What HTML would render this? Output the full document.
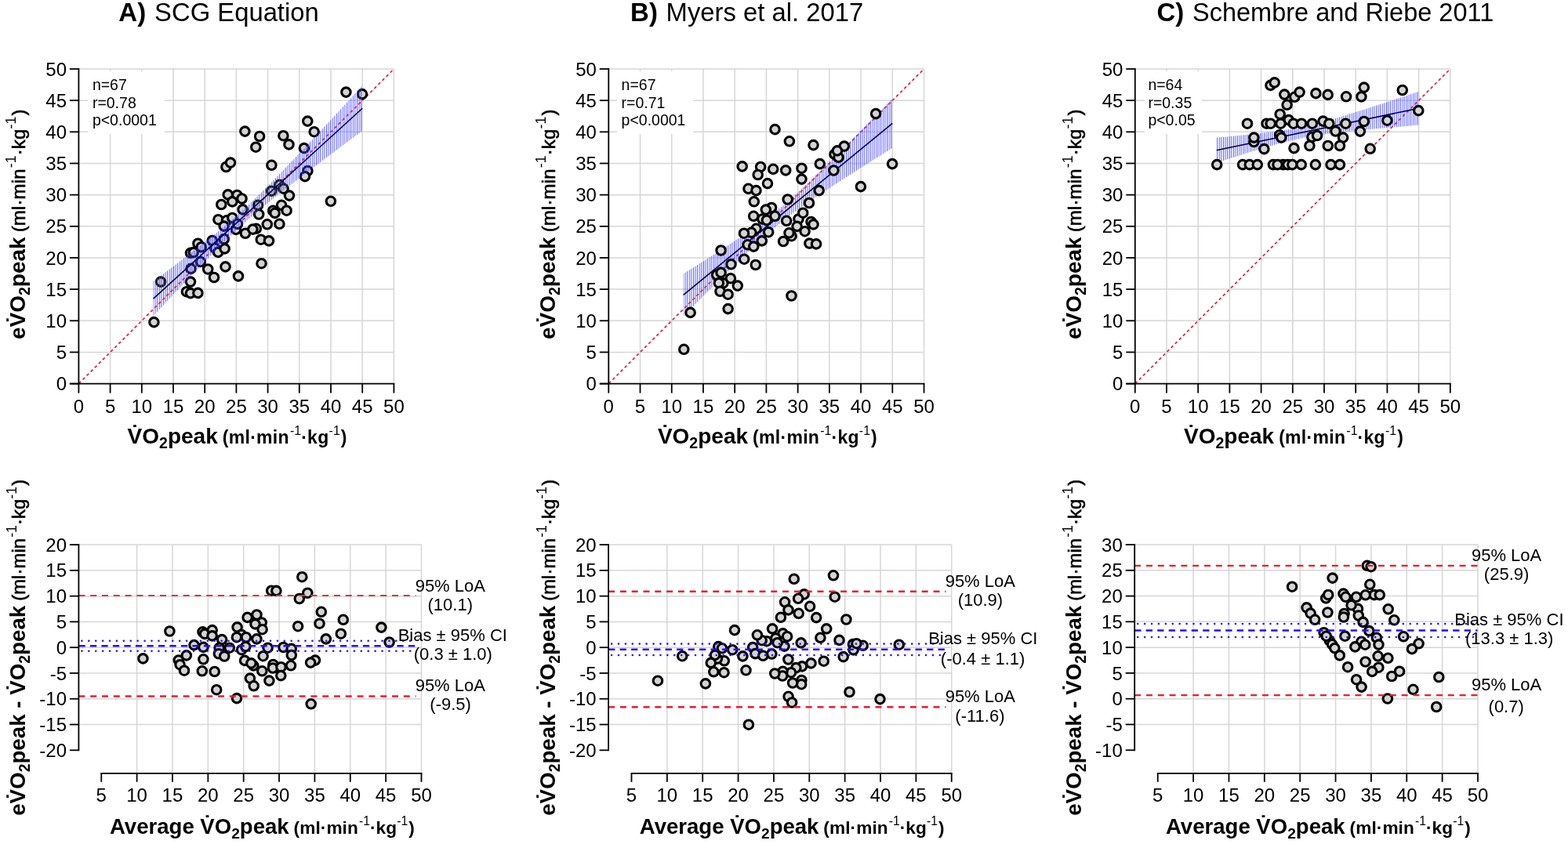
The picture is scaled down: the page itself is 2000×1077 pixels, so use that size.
<!DOCTYPE html><html><head><meta charset="utf-8"><title>Figure</title><style>html,body{margin:0;padding:0;background:#fff;}svg{display:block;}text{font-family:'Liberation Sans', Arial, sans-serif;fill:#000;}.tk{font-size:24px;}.st{font-size:19.5px;}.an{font-size:22px;}.ttl{font-size:33px;}.lb{font-size:28px;font-weight:bold;}.lu{font-size:24px;font-weight:bold;}</style></head><body>
<svg width="2000" height="1077" viewBox="0 0 2000 1077">
<defs><pattern id="hatch" patternUnits="userSpaceOnUse" width="2.6" height="10"><rect x="0" y="0" width="1.1" height="10" fill="#4c4cff" fill-opacity="0.85"/></pattern></defs>
<rect x="0" y="0" width="2000" height="1077" fill="#fff"/>
<text class="ttl" x="151.3" y="27.4" font-weight="bold">A)</text>
<text class="ttl" x="197.1" y="27.4" style="font-size:32.8px">SCG Equation</text>
<text class="ttl" x="804.1" y="27.4" font-weight="bold">B)</text>
<text class="ttl" x="849.6" y="27.4" style="font-size:32.8px">Myers et al. 2017</text>
<text class="ttl" x="1475.5" y="27.4" font-weight="bold">C)</text>
<text class="ttl" x="1521" y="27.4" style="font-size:32.5px">Schembre and Riebe 2011</text>
<g><line x1="100.4" y1="449.44" x2="502.4" y2="449.44" stroke="#d6d6d6" stroke-width="1.5"/><line x1="140.6" y1="489.6" x2="140.6" y2="88" stroke="#d6d6d6" stroke-width="1.5"/><line x1="100.4" y1="409.28" x2="502.4" y2="409.28" stroke="#d6d6d6" stroke-width="1.5"/><line x1="180.8" y1="489.6" x2="180.8" y2="88" stroke="#d6d6d6" stroke-width="1.5"/><line x1="100.4" y1="369.12" x2="502.4" y2="369.12" stroke="#d6d6d6" stroke-width="1.5"/><line x1="221" y1="489.6" x2="221" y2="88" stroke="#d6d6d6" stroke-width="1.5"/><line x1="100.4" y1="328.96" x2="502.4" y2="328.96" stroke="#d6d6d6" stroke-width="1.5"/><line x1="261.2" y1="489.6" x2="261.2" y2="88" stroke="#d6d6d6" stroke-width="1.5"/><line x1="100.4" y1="288.8" x2="502.4" y2="288.8" stroke="#d6d6d6" stroke-width="1.5"/><line x1="301.4" y1="489.6" x2="301.4" y2="88" stroke="#d6d6d6" stroke-width="1.5"/><line x1="100.4" y1="248.64" x2="502.4" y2="248.64" stroke="#d6d6d6" stroke-width="1.5"/><line x1="341.6" y1="489.6" x2="341.6" y2="88" stroke="#d6d6d6" stroke-width="1.5"/><line x1="100.4" y1="208.48" x2="502.4" y2="208.48" stroke="#d6d6d6" stroke-width="1.5"/><line x1="381.8" y1="489.6" x2="381.8" y2="88" stroke="#d6d6d6" stroke-width="1.5"/><line x1="100.4" y1="168.32" x2="502.4" y2="168.32" stroke="#d6d6d6" stroke-width="1.5"/><line x1="422" y1="489.6" x2="422" y2="88" stroke="#d6d6d6" stroke-width="1.5"/><line x1="100.4" y1="128.16" x2="502.4" y2="128.16" stroke="#d6d6d6" stroke-width="1.5"/><line x1="462.2" y1="489.6" x2="462.2" y2="88" stroke="#d6d6d6" stroke-width="1.5"/><line x1="100.4" y1="88" x2="502.4" y2="88" stroke="#d6d6d6" stroke-width="1.5"/><line x1="502.4" y1="489.6" x2="502.4" y2="88" stroke="#d6d6d6" stroke-width="1.5"/><rect x="112" y="91" width="98" height="80" fill="#fff"/><line x1="100.4" y1="489.6" x2="502.4" y2="88" stroke="#dc2245" stroke-width="1.7" stroke-dasharray="3.8 3.4"/><circle cx="196.4" cy="411.1" r="5.75" fill="#d4d4d4" stroke="#000" stroke-width="3.1"/><circle cx="205.1" cy="359.6" r="5.75" fill="#d4d4d4" stroke="#000" stroke-width="3.1"/><circle cx="237.9" cy="372.2" r="5.75" fill="#d4d4d4" stroke="#000" stroke-width="3.1"/><circle cx="243" cy="374.1" r="5.75" fill="#d4d4d4" stroke="#000" stroke-width="3.1"/><circle cx="252.4" cy="373.9" r="5.75" fill="#d4d4d4" stroke="#000" stroke-width="3.1"/><circle cx="243" cy="359.6" r="5.75" fill="#d4d4d4" stroke="#000" stroke-width="3.1"/><circle cx="243.5" cy="342.9" r="5.75" fill="#d4d4d4" stroke="#000" stroke-width="3.1"/><circle cx="255.8" cy="334" r="5.75" fill="#d4d4d4" stroke="#000" stroke-width="3.1"/><circle cx="265.2" cy="343.5" r="5.75" fill="#d4d4d4" stroke="#000" stroke-width="3.1"/><circle cx="273" cy="354" r="5.75" fill="#d4d4d4" stroke="#000" stroke-width="3.1"/><circle cx="287.5" cy="340.4" r="5.75" fill="#d4d4d4" stroke="#000" stroke-width="3.1"/><circle cx="304" cy="352.4" r="5.75" fill="#d4d4d4" stroke="#000" stroke-width="3.1"/><circle cx="243" cy="322.8" r="5.75" fill="#d4d4d4" stroke="#000" stroke-width="3.1"/><circle cx="246.9" cy="322.1" r="5.75" fill="#d4d4d4" stroke="#000" stroke-width="3.1"/><circle cx="252.4" cy="310.7" r="5.75" fill="#d4d4d4" stroke="#000" stroke-width="3.1"/><circle cx="256.8" cy="315.2" r="5.75" fill="#d4d4d4" stroke="#000" stroke-width="3.1"/><circle cx="270.8" cy="307" r="5.75" fill="#d4d4d4" stroke="#000" stroke-width="3.1"/><circle cx="274.2" cy="316.7" r="5.75" fill="#d4d4d4" stroke="#000" stroke-width="3.1"/><circle cx="278.2" cy="321.9" r="5.75" fill="#d4d4d4" stroke="#000" stroke-width="3.1"/><circle cx="286.6" cy="317.4" r="5.75" fill="#d4d4d4" stroke="#000" stroke-width="3.1"/><circle cx="285.8" cy="305" r="5.75" fill="#d4d4d4" stroke="#000" stroke-width="3.1"/><circle cx="333.5" cy="336.2" r="5.75" fill="#d4d4d4" stroke="#000" stroke-width="3.1"/><circle cx="312.9" cy="297.8" r="5.75" fill="#d4d4d4" stroke="#000" stroke-width="3.1"/><circle cx="332.8" cy="305.7" r="5.75" fill="#d4d4d4" stroke="#000" stroke-width="3.1"/><circle cx="343" cy="307.4" r="5.75" fill="#d4d4d4" stroke="#000" stroke-width="3.1"/><circle cx="326.8" cy="291.8" r="5.75" fill="#d4d4d4" stroke="#000" stroke-width="3.1"/><circle cx="322.4" cy="292.6" r="5.75" fill="#d4d4d4" stroke="#000" stroke-width="3.1"/><circle cx="301" cy="292.9" r="5.75" fill="#d4d4d4" stroke="#000" stroke-width="3.1"/><circle cx="288.4" cy="213" r="5.75" fill="#d4d4d4" stroke="#000" stroke-width="3.1"/><circle cx="294" cy="207.6" r="5.75" fill="#d4d4d4" stroke="#000" stroke-width="3.1"/><circle cx="346.4" cy="210.8" r="5.75" fill="#d4d4d4" stroke="#000" stroke-width="3.1"/><circle cx="290.7" cy="248.4" r="5.75" fill="#d4d4d4" stroke="#000" stroke-width="3.1"/><circle cx="302.4" cy="249" r="5.75" fill="#d4d4d4" stroke="#000" stroke-width="3.1"/><circle cx="308.5" cy="253.5" r="5.75" fill="#d4d4d4" stroke="#000" stroke-width="3.1"/><circle cx="296.3" cy="257.4" r="5.75" fill="#d4d4d4" stroke="#000" stroke-width="3.1"/><circle cx="282.3" cy="261" r="5.75" fill="#d4d4d4" stroke="#000" stroke-width="3.1"/><circle cx="309.6" cy="267.4" r="5.75" fill="#d4d4d4" stroke="#000" stroke-width="3.1"/><circle cx="329.1" cy="261.8" r="5.75" fill="#d4d4d4" stroke="#000" stroke-width="3.1"/><circle cx="330.2" cy="273.5" r="5.75" fill="#d4d4d4" stroke="#000" stroke-width="3.1"/><circle cx="346.3" cy="243.7" r="5.75" fill="#d4d4d4" stroke="#000" stroke-width="3.1"/><circle cx="356.5" cy="235.8" r="5.75" fill="#d4d4d4" stroke="#000" stroke-width="3.1"/><circle cx="361.6" cy="240.7" r="5.75" fill="#d4d4d4" stroke="#000" stroke-width="3.1"/><circle cx="348.2" cy="268.8" r="5.75" fill="#d4d4d4" stroke="#000" stroke-width="3.1"/><circle cx="350.6" cy="271.9" r="5.75" fill="#d4d4d4" stroke="#000" stroke-width="3.1"/><circle cx="359.1" cy="261.8" r="5.75" fill="#d4d4d4" stroke="#000" stroke-width="3.1"/><circle cx="356.4" cy="285.8" r="5.75" fill="#d4d4d4" stroke="#000" stroke-width="3.1"/><circle cx="340.8" cy="286.3" r="5.75" fill="#d4d4d4" stroke="#000" stroke-width="3.1"/><circle cx="278.4" cy="280.2" r="5.75" fill="#d4d4d4" stroke="#000" stroke-width="3.1"/><circle cx="289" cy="281.3" r="5.75" fill="#d4d4d4" stroke="#000" stroke-width="3.1"/><circle cx="296.3" cy="278" r="5.75" fill="#d4d4d4" stroke="#000" stroke-width="3.1"/><circle cx="285.7" cy="288.6" r="5.75" fill="#d4d4d4" stroke="#000" stroke-width="3.1"/><circle cx="303" cy="285.8" r="5.75" fill="#d4d4d4" stroke="#000" stroke-width="3.1"/><circle cx="312.4" cy="167.6" r="5.75" fill="#d4d4d4" stroke="#000" stroke-width="3.1"/><circle cx="331.1" cy="174" r="5.75" fill="#d4d4d4" stroke="#000" stroke-width="3.1"/><circle cx="326.3" cy="187.7" r="5.75" fill="#d4d4d4" stroke="#000" stroke-width="3.1"/><circle cx="361.4" cy="173.2" r="5.75" fill="#d4d4d4" stroke="#000" stroke-width="3.1"/><circle cx="368.5" cy="184.4" r="5.75" fill="#d4d4d4" stroke="#000" stroke-width="3.1"/><circle cx="369" cy="249.6" r="5.75" fill="#d4d4d4" stroke="#000" stroke-width="3.1"/><circle cx="441.4" cy="117.6" r="5.75" fill="#d4d4d4" stroke="#000" stroke-width="3.1"/><circle cx="462" cy="120.1" r="5.75" fill="#d4d4d4" stroke="#000" stroke-width="3.1"/><circle cx="392.3" cy="154.6" r="5.75" fill="#d4d4d4" stroke="#000" stroke-width="3.1"/><circle cx="400.7" cy="168.2" r="5.75" fill="#d4d4d4" stroke="#000" stroke-width="3.1"/><circle cx="387.9" cy="189.1" r="5.75" fill="#d4d4d4" stroke="#000" stroke-width="3.1"/><circle cx="392.4" cy="218" r="5.75" fill="#d4d4d4" stroke="#000" stroke-width="3.1"/><circle cx="389" cy="225.1" r="5.75" fill="#d4d4d4" stroke="#000" stroke-width="3.1"/><circle cx="365.6" cy="268.7" r="5.75" fill="#d4d4d4" stroke="#000" stroke-width="3.1"/><circle cx="421.9" cy="256.8" r="5.75" fill="#d4d4d4" stroke="#000" stroke-width="3.1"/><polygon points="195.59,359.08 202.26,354.08 208.92,349.06 215.59,344.03 222.25,338.98 228.92,333.92 235.58,328.82 242.25,323.7 248.91,318.54 255.58,313.35 262.25,308.09 268.91,302.78 275.58,297.39 282.24,291.91 288.91,286.33 295.57,280.62 302.24,274.77 308.9,268.78 315.57,262.63 322.23,256.33 328.9,249.9 335.56,243.34 342.23,236.68 348.89,229.92 355.56,223.09 362.22,216.2 368.89,209.25 375.55,202.27 382.22,195.24 388.88,188.19 395.55,181.11 402.21,174.02 408.88,166.9 415.54,159.77 422.21,152.63 428.87,145.48 435.54,138.32 442.2,131.14 448.87,123.97 455.53,116.78 462.2,109.59 462.2,166.94 455.53,171.89 448.87,176.85 442.2,181.82 435.54,186.8 428.87,191.78 422.21,196.77 415.54,201.77 408.88,206.79 402.21,211.82 395.55,216.87 388.88,221.94 382.22,227.03 375.55,232.15 368.89,237.31 362.22,242.51 355.56,247.76 348.89,253.07 342.23,258.46 335.56,263.95 328.9,269.53 322.23,275.24 315.57,281.09 308.9,287.09 302.24,293.24 295.57,299.54 288.91,305.98 282.24,312.54 275.58,319.2 268.91,325.96 262.25,332.79 255.58,339.68 248.91,346.63 242.25,353.62 235.58,360.64 228.92,367.69 222.25,374.77 215.59,381.87 208.92,388.98 202.26,396.11 195.59,403.26" fill="url(#hatch)"/><line x1="195.59" y1="381.17" x2="462.2" y2="138.26" stroke="#000050" stroke-width="1.6"/><line x1="100.4" y1="490.5" x2="100.4" y2="87.1" stroke="#000" stroke-width="1.8"/><line x1="88.9" y1="489.6" x2="503.3" y2="489.6" stroke="#000" stroke-width="1.8"/><line x1="88.9" y1="489.6" x2="100.4" y2="489.6" stroke="#000" stroke-width="1.8"/><line x1="100.4" y1="489.6" x2="100.4" y2="501.6" stroke="#000" stroke-width="1.8"/><text class="tk" x="85" y="498.2" text-anchor="end">0</text><text class="tk" x="100.4" y="526.8" text-anchor="middle">0</text><line x1="88.9" y1="449.44" x2="100.4" y2="449.44" stroke="#000" stroke-width="1.8"/><line x1="140.6" y1="489.6" x2="140.6" y2="501.6" stroke="#000" stroke-width="1.8"/><text class="tk" x="85" y="458.04" text-anchor="end">5</text><text class="tk" x="140.6" y="526.8" text-anchor="middle">5</text><line x1="88.9" y1="409.28" x2="100.4" y2="409.28" stroke="#000" stroke-width="1.8"/><line x1="180.8" y1="489.6" x2="180.8" y2="501.6" stroke="#000" stroke-width="1.8"/><text class="tk" x="85" y="417.88" text-anchor="end">10</text><text class="tk" x="180.8" y="526.8" text-anchor="middle">10</text><line x1="88.9" y1="369.12" x2="100.4" y2="369.12" stroke="#000" stroke-width="1.8"/><line x1="221" y1="489.6" x2="221" y2="501.6" stroke="#000" stroke-width="1.8"/><text class="tk" x="85" y="377.72" text-anchor="end">15</text><text class="tk" x="221" y="526.8" text-anchor="middle">15</text><line x1="88.9" y1="328.96" x2="100.4" y2="328.96" stroke="#000" stroke-width="1.8"/><line x1="261.2" y1="489.6" x2="261.2" y2="501.6" stroke="#000" stroke-width="1.8"/><text class="tk" x="85" y="337.56" text-anchor="end">20</text><text class="tk" x="261.2" y="526.8" text-anchor="middle">20</text><line x1="88.9" y1="288.8" x2="100.4" y2="288.8" stroke="#000" stroke-width="1.8"/><line x1="301.4" y1="489.6" x2="301.4" y2="501.6" stroke="#000" stroke-width="1.8"/><text class="tk" x="85" y="297.4" text-anchor="end">25</text><text class="tk" x="301.4" y="526.8" text-anchor="middle">25</text><line x1="88.9" y1="248.64" x2="100.4" y2="248.64" stroke="#000" stroke-width="1.8"/><line x1="341.6" y1="489.6" x2="341.6" y2="501.6" stroke="#000" stroke-width="1.8"/><text class="tk" x="85" y="257.24" text-anchor="end">30</text><text class="tk" x="341.6" y="526.8" text-anchor="middle">30</text><line x1="88.9" y1="208.48" x2="100.4" y2="208.48" stroke="#000" stroke-width="1.8"/><line x1="381.8" y1="489.6" x2="381.8" y2="501.6" stroke="#000" stroke-width="1.8"/><text class="tk" x="85" y="217.08" text-anchor="end">35</text><text class="tk" x="381.8" y="526.8" text-anchor="middle">35</text><line x1="88.9" y1="168.32" x2="100.4" y2="168.32" stroke="#000" stroke-width="1.8"/><line x1="422" y1="489.6" x2="422" y2="501.6" stroke="#000" stroke-width="1.8"/><text class="tk" x="85" y="176.92" text-anchor="end">40</text><text class="tk" x="422" y="526.8" text-anchor="middle">40</text><line x1="88.9" y1="128.16" x2="100.4" y2="128.16" stroke="#000" stroke-width="1.8"/><line x1="462.2" y1="489.6" x2="462.2" y2="501.6" stroke="#000" stroke-width="1.8"/><text class="tk" x="85" y="136.76" text-anchor="end">45</text><text class="tk" x="462.2" y="526.8" text-anchor="middle">45</text><line x1="88.9" y1="88" x2="100.4" y2="88" stroke="#000" stroke-width="1.8"/><line x1="502.4" y1="489.6" x2="502.4" y2="501.6" stroke="#000" stroke-width="1.8"/><text class="tk" x="85" y="96.6" text-anchor="end">50</text><text class="tk" x="502.4" y="526.8" text-anchor="middle">50</text><text class="st" x="117.9" y="115.3">n=67</text><text class="st" x="117.9" y="137.5">r=0.78</text><text class="st" x="117.9" y="159.7">p&lt;0.0001</text></g>
<g><line x1="776.3" y1="449.44" x2="1178.55" y2="449.44" stroke="#d6d6d6" stroke-width="1.5"/><line x1="816.52" y1="489.6" x2="816.52" y2="88" stroke="#d6d6d6" stroke-width="1.5"/><line x1="776.3" y1="409.28" x2="1178.55" y2="409.28" stroke="#d6d6d6" stroke-width="1.5"/><line x1="856.75" y1="489.6" x2="856.75" y2="88" stroke="#d6d6d6" stroke-width="1.5"/><line x1="776.3" y1="369.12" x2="1178.55" y2="369.12" stroke="#d6d6d6" stroke-width="1.5"/><line x1="896.97" y1="489.6" x2="896.97" y2="88" stroke="#d6d6d6" stroke-width="1.5"/><line x1="776.3" y1="328.96" x2="1178.55" y2="328.96" stroke="#d6d6d6" stroke-width="1.5"/><line x1="937.2" y1="489.6" x2="937.2" y2="88" stroke="#d6d6d6" stroke-width="1.5"/><line x1="776.3" y1="288.8" x2="1178.55" y2="288.8" stroke="#d6d6d6" stroke-width="1.5"/><line x1="977.42" y1="489.6" x2="977.42" y2="88" stroke="#d6d6d6" stroke-width="1.5"/><line x1="776.3" y1="248.64" x2="1178.55" y2="248.64" stroke="#d6d6d6" stroke-width="1.5"/><line x1="1017.65" y1="489.6" x2="1017.65" y2="88" stroke="#d6d6d6" stroke-width="1.5"/><line x1="776.3" y1="208.48" x2="1178.55" y2="208.48" stroke="#d6d6d6" stroke-width="1.5"/><line x1="1057.88" y1="489.6" x2="1057.88" y2="88" stroke="#d6d6d6" stroke-width="1.5"/><line x1="776.3" y1="168.32" x2="1178.55" y2="168.32" stroke="#d6d6d6" stroke-width="1.5"/><line x1="1098.1" y1="489.6" x2="1098.1" y2="88" stroke="#d6d6d6" stroke-width="1.5"/><line x1="776.3" y1="128.16" x2="1178.55" y2="128.16" stroke="#d6d6d6" stroke-width="1.5"/><line x1="1138.32" y1="489.6" x2="1138.32" y2="88" stroke="#d6d6d6" stroke-width="1.5"/><line x1="776.3" y1="88" x2="1178.55" y2="88" stroke="#d6d6d6" stroke-width="1.5"/><line x1="1178.55" y1="489.6" x2="1178.55" y2="88" stroke="#d6d6d6" stroke-width="1.5"/><rect x="787" y="91" width="97" height="80" fill="#fff"/><line x1="776.3" y1="489.6" x2="1178.55" y2="88" stroke="#dc2245" stroke-width="1.7" stroke-dasharray="3.8 3.4"/><polygon points="871.71,349.28 878.38,345.09 885.04,340.88 891.71,336.66 898.37,332.43 905.04,328.17 911.71,323.9 918.37,319.61 925.04,315.28 931.7,310.92 938.37,306.51 945.03,302.05 951.7,297.52 958.36,292.92 965.03,288.21 971.69,283.37 978.36,278.4 985.02,273.25 991.69,267.92 998.35,262.4 1005.02,256.69 1011.68,250.81 1018.35,244.76 1025.02,238.58 1031.68,232.29 1038.35,225.91 1045.01,219.45 1051.68,212.93 1058.34,206.36 1065.01,199.75 1071.67,193.11 1078.34,186.44 1085,179.75 1091.67,173.04 1098.33,166.32 1105,159.58 1111.66,152.82 1118.33,146.06 1124.99,139.29 1131.66,132.51 1138.32,125.73 1138.32,188.83 1131.66,193 1124.99,197.18 1118.33,201.36 1111.66,205.55 1105,209.75 1098.33,213.97 1091.67,218.2 1085,222.44 1078.34,226.7 1071.67,230.99 1065.01,235.3 1058.34,239.64 1051.68,244.03 1045.01,248.46 1038.35,252.96 1031.68,257.53 1025.02,262.19 1018.35,266.96 1011.68,271.87 1005.02,276.94 998.35,282.18 991.69,287.61 985.02,293.24 978.36,299.05 971.69,305.02 965.03,311.15 958.36,317.39 951.7,323.73 945.03,330.16 938.37,336.65 931.7,343.2 925.04,349.79 918.37,356.42 911.71,363.08 905.04,369.76 898.37,376.46 891.71,383.18 885.04,389.91 878.38,396.66 871.71,403.42" fill="url(#hatch)"/><line x1="871.71" y1="376.35" x2="1138.32" y2="157.28" stroke="#000050" stroke-width="1.6"/><circle cx="880.6" cy="398.9" r="5.75" fill="#d4d4d4" stroke="#000" stroke-width="3.1"/><circle cx="919.6" cy="319.5" r="5.75" fill="#d4d4d4" stroke="#000" stroke-width="3.1"/><circle cx="914.1" cy="350.7" r="5.75" fill="#d4d4d4" stroke="#000" stroke-width="3.1"/><circle cx="919.6" cy="347.9" r="5.75" fill="#d4d4d4" stroke="#000" stroke-width="3.1"/><circle cx="932.5" cy="337.3" r="5.75" fill="#d4d4d4" stroke="#000" stroke-width="3.1"/><circle cx="931.9" cy="355.2" r="5.75" fill="#d4d4d4" stroke="#000" stroke-width="3.1"/><circle cx="922.4" cy="361.4" r="5.75" fill="#d4d4d4" stroke="#000" stroke-width="3.1"/><circle cx="916.9" cy="361.1" r="5.75" fill="#d4d4d4" stroke="#000" stroke-width="3.1"/><circle cx="940.8" cy="364.6" r="5.75" fill="#d4d4d4" stroke="#000" stroke-width="3.1"/><circle cx="918.5" cy="371.8" r="5.75" fill="#d4d4d4" stroke="#000" stroke-width="3.1"/><circle cx="928.6" cy="375.7" r="5.75" fill="#d4d4d4" stroke="#000" stroke-width="3.1"/><circle cx="928.6" cy="394.1" r="5.75" fill="#d4d4d4" stroke="#000" stroke-width="3.1"/><circle cx="949.2" cy="330.7" r="5.75" fill="#d4d4d4" stroke="#000" stroke-width="3.1"/><circle cx="963.8" cy="338" r="5.75" fill="#d4d4d4" stroke="#000" stroke-width="3.1"/><circle cx="953.6" cy="312.3" r="5.75" fill="#d4d4d4" stroke="#000" stroke-width="3.1"/><circle cx="961.3" cy="314.6" r="5.75" fill="#d4d4d4" stroke="#000" stroke-width="3.1"/><circle cx="961.8" cy="257.3" r="5.75" fill="#d4d4d4" stroke="#000" stroke-width="3.1"/><circle cx="1004.7" cy="254.5" r="5.75" fill="#d4d4d4" stroke="#000" stroke-width="3.1"/><circle cx="1032" cy="259" r="5.75" fill="#d4d4d4" stroke="#000" stroke-width="3.1"/><circle cx="984.1" cy="265" r="5.75" fill="#d4d4d4" stroke="#000" stroke-width="3.1"/><circle cx="976.8" cy="267.6" r="5.75" fill="#d4d4d4" stroke="#000" stroke-width="3.1"/><circle cx="961.2" cy="275.8" r="5.75" fill="#d4d4d4" stroke="#000" stroke-width="3.1"/><circle cx="988.5" cy="275.8" r="5.75" fill="#d4d4d4" stroke="#000" stroke-width="3.1"/><circle cx="972.4" cy="279.5" r="5.75" fill="#d4d4d4" stroke="#000" stroke-width="3.1"/><circle cx="977.9" cy="281" r="5.75" fill="#d4d4d4" stroke="#000" stroke-width="3.1"/><circle cx="1003.2" cy="281.8" r="5.75" fill="#d4d4d4" stroke="#000" stroke-width="3.1"/><circle cx="1018.5" cy="279.5" r="5.75" fill="#d4d4d4" stroke="#000" stroke-width="3.1"/><circle cx="1024.2" cy="271.7" r="5.75" fill="#d4d4d4" stroke="#000" stroke-width="3.1"/><circle cx="1034.5" cy="283" r="5.75" fill="#d4d4d4" stroke="#000" stroke-width="3.1"/><circle cx="1037.5" cy="286.4" r="5.75" fill="#d4d4d4" stroke="#000" stroke-width="3.1"/><circle cx="1016.6" cy="288.9" r="5.75" fill="#d4d4d4" stroke="#000" stroke-width="3.1"/><circle cx="1026.6" cy="295.2" r="5.75" fill="#d4d4d4" stroke="#000" stroke-width="3.1"/><circle cx="1009.6" cy="301.2" r="5.75" fill="#d4d4d4" stroke="#000" stroke-width="3.1"/><circle cx="1006.5" cy="297.3" r="5.75" fill="#d4d4d4" stroke="#000" stroke-width="3.1"/><circle cx="999.1" cy="308" r="5.75" fill="#d4d4d4" stroke="#000" stroke-width="3.1"/><circle cx="1032.4" cy="310.6" r="5.75" fill="#d4d4d4" stroke="#000" stroke-width="3.1"/><circle cx="1041.1" cy="311.4" r="5.75" fill="#d4d4d4" stroke="#000" stroke-width="3.1"/><circle cx="964.6" cy="291.8" r="5.75" fill="#d4d4d4" stroke="#000" stroke-width="3.1"/><circle cx="958.4" cy="296.8" r="5.75" fill="#d4d4d4" stroke="#000" stroke-width="3.1"/><circle cx="949" cy="297.7" r="5.75" fill="#d4d4d4" stroke="#000" stroke-width="3.1"/><circle cx="980.2" cy="296.2" r="5.75" fill="#d4d4d4" stroke="#000" stroke-width="3.1"/><circle cx="971.8" cy="307.4" r="5.75" fill="#d4d4d4" stroke="#000" stroke-width="3.1"/><circle cx="988.5" cy="165.1" r="5.75" fill="#d4d4d4" stroke="#000" stroke-width="3.1"/><circle cx="1006.9" cy="180.3" r="5.75" fill="#d4d4d4" stroke="#000" stroke-width="3.1"/><circle cx="1037.5" cy="185.1" r="5.75" fill="#d4d4d4" stroke="#000" stroke-width="3.1"/><circle cx="946.7" cy="212.4" r="5.75" fill="#d4d4d4" stroke="#000" stroke-width="3.1"/><circle cx="970.1" cy="213" r="5.75" fill="#d4d4d4" stroke="#000" stroke-width="3.1"/><circle cx="966.7" cy="223" r="5.75" fill="#d4d4d4" stroke="#000" stroke-width="3.1"/><circle cx="986.2" cy="215.8" r="5.75" fill="#d4d4d4" stroke="#000" stroke-width="3.1"/><circle cx="1002.2" cy="217.4" r="5.75" fill="#d4d4d4" stroke="#000" stroke-width="3.1"/><circle cx="1022.5" cy="214.7" r="5.75" fill="#d4d4d4" stroke="#000" stroke-width="3.1"/><circle cx="1022.5" cy="228.6" r="5.75" fill="#d4d4d4" stroke="#000" stroke-width="3.1"/><circle cx="979" cy="234.1" r="5.75" fill="#d4d4d4" stroke="#000" stroke-width="3.1"/><circle cx="954.5" cy="240.8" r="5.75" fill="#d4d4d4" stroke="#000" stroke-width="3.1"/><circle cx="964.5" cy="243.1" r="5.75" fill="#d4d4d4" stroke="#000" stroke-width="3.1"/><circle cx="1045.8" cy="209.1" r="5.75" fill="#d4d4d4" stroke="#000" stroke-width="3.1"/><circle cx="1044.7" cy="243.1" r="5.75" fill="#d4d4d4" stroke="#000" stroke-width="3.1"/><circle cx="1117.1" cy="145.1" r="5.75" fill="#d4d4d4" stroke="#000" stroke-width="3.1"/><circle cx="1138.1" cy="209.1" r="5.75" fill="#d4d4d4" stroke="#000" stroke-width="3.1"/><circle cx="1076.8" cy="186.6" r="5.75" fill="#d4d4d4" stroke="#000" stroke-width="3.1"/><circle cx="1064.5" cy="196.9" r="5.75" fill="#d4d4d4" stroke="#000" stroke-width="3.1"/><circle cx="1069.5" cy="200.8" r="5.75" fill="#d4d4d4" stroke="#000" stroke-width="3.1"/><circle cx="1067.9" cy="192.4" r="5.75" fill="#d4d4d4" stroke="#000" stroke-width="3.1"/><circle cx="1063.4" cy="217.5" r="5.75" fill="#d4d4d4" stroke="#000" stroke-width="3.1"/><circle cx="1097.9" cy="238.1" r="5.75" fill="#d4d4d4" stroke="#000" stroke-width="3.1"/><circle cx="872.3" cy="445.8" r="5.75" fill="#d4d4d4" stroke="#000" stroke-width="3.1"/><circle cx="1009.5" cy="377.5" r="5.75" fill="#d4d4d4" stroke="#000" stroke-width="3.1"/><line x1="776.3" y1="490.5" x2="776.3" y2="87.1" stroke="#000" stroke-width="1.8"/><line x1="764.8" y1="489.6" x2="1179.45" y2="489.6" stroke="#000" stroke-width="1.8"/><line x1="764.8" y1="489.6" x2="776.3" y2="489.6" stroke="#000" stroke-width="1.8"/><line x1="776.3" y1="489.6" x2="776.3" y2="501.6" stroke="#000" stroke-width="1.8"/><text class="tk" x="760.9" y="498.2" text-anchor="end">0</text><text class="tk" x="776.3" y="526.8" text-anchor="middle">0</text><line x1="764.8" y1="449.44" x2="776.3" y2="449.44" stroke="#000" stroke-width="1.8"/><line x1="816.52" y1="489.6" x2="816.52" y2="501.6" stroke="#000" stroke-width="1.8"/><text class="tk" x="760.9" y="458.04" text-anchor="end">5</text><text class="tk" x="816.52" y="526.8" text-anchor="middle">5</text><line x1="764.8" y1="409.28" x2="776.3" y2="409.28" stroke="#000" stroke-width="1.8"/><line x1="856.75" y1="489.6" x2="856.75" y2="501.6" stroke="#000" stroke-width="1.8"/><text class="tk" x="760.9" y="417.88" text-anchor="end">10</text><text class="tk" x="856.75" y="526.8" text-anchor="middle">10</text><line x1="764.8" y1="369.12" x2="776.3" y2="369.12" stroke="#000" stroke-width="1.8"/><line x1="896.97" y1="489.6" x2="896.97" y2="501.6" stroke="#000" stroke-width="1.8"/><text class="tk" x="760.9" y="377.72" text-anchor="end">15</text><text class="tk" x="896.97" y="526.8" text-anchor="middle">15</text><line x1="764.8" y1="328.96" x2="776.3" y2="328.96" stroke="#000" stroke-width="1.8"/><line x1="937.2" y1="489.6" x2="937.2" y2="501.6" stroke="#000" stroke-width="1.8"/><text class="tk" x="760.9" y="337.56" text-anchor="end">20</text><text class="tk" x="937.2" y="526.8" text-anchor="middle">20</text><line x1="764.8" y1="288.8" x2="776.3" y2="288.8" stroke="#000" stroke-width="1.8"/><line x1="977.42" y1="489.6" x2="977.42" y2="501.6" stroke="#000" stroke-width="1.8"/><text class="tk" x="760.9" y="297.4" text-anchor="end">25</text><text class="tk" x="977.42" y="526.8" text-anchor="middle">25</text><line x1="764.8" y1="248.64" x2="776.3" y2="248.64" stroke="#000" stroke-width="1.8"/><line x1="1017.65" y1="489.6" x2="1017.65" y2="501.6" stroke="#000" stroke-width="1.8"/><text class="tk" x="760.9" y="257.24" text-anchor="end">30</text><text class="tk" x="1017.65" y="526.8" text-anchor="middle">30</text><line x1="764.8" y1="208.48" x2="776.3" y2="208.48" stroke="#000" stroke-width="1.8"/><line x1="1057.88" y1="489.6" x2="1057.88" y2="501.6" stroke="#000" stroke-width="1.8"/><text class="tk" x="760.9" y="217.08" text-anchor="end">35</text><text class="tk" x="1057.88" y="526.8" text-anchor="middle">35</text><line x1="764.8" y1="168.32" x2="776.3" y2="168.32" stroke="#000" stroke-width="1.8"/><line x1="1098.1" y1="489.6" x2="1098.1" y2="501.6" stroke="#000" stroke-width="1.8"/><text class="tk" x="760.9" y="176.92" text-anchor="end">40</text><text class="tk" x="1098.1" y="526.8" text-anchor="middle">40</text><line x1="764.8" y1="128.16" x2="776.3" y2="128.16" stroke="#000" stroke-width="1.8"/><line x1="1138.32" y1="489.6" x2="1138.32" y2="501.6" stroke="#000" stroke-width="1.8"/><text class="tk" x="760.9" y="136.76" text-anchor="end">45</text><text class="tk" x="1138.32" y="526.8" text-anchor="middle">45</text><line x1="764.8" y1="88" x2="776.3" y2="88" stroke="#000" stroke-width="1.8"/><line x1="1178.55" y1="489.6" x2="1178.55" y2="501.6" stroke="#000" stroke-width="1.8"/><text class="tk" x="760.9" y="96.6" text-anchor="end">50</text><text class="tk" x="1178.55" y="526.8" text-anchor="middle">50</text><text class="st" x="792.6" y="115.3">n=67</text><text class="st" x="792.6" y="137.5">r=0.71</text><text class="st" x="792.6" y="159.7">p&lt;0.0001</text></g>
<g><line x1="1447.8" y1="449.44" x2="1849.8" y2="449.44" stroke="#d6d6d6" stroke-width="1.5"/><line x1="1488" y1="489.6" x2="1488" y2="88" stroke="#d6d6d6" stroke-width="1.5"/><line x1="1447.8" y1="409.28" x2="1849.8" y2="409.28" stroke="#d6d6d6" stroke-width="1.5"/><line x1="1528.2" y1="489.6" x2="1528.2" y2="88" stroke="#d6d6d6" stroke-width="1.5"/><line x1="1447.8" y1="369.12" x2="1849.8" y2="369.12" stroke="#d6d6d6" stroke-width="1.5"/><line x1="1568.4" y1="489.6" x2="1568.4" y2="88" stroke="#d6d6d6" stroke-width="1.5"/><line x1="1447.8" y1="328.96" x2="1849.8" y2="328.96" stroke="#d6d6d6" stroke-width="1.5"/><line x1="1608.6" y1="489.6" x2="1608.6" y2="88" stroke="#d6d6d6" stroke-width="1.5"/><line x1="1447.8" y1="288.8" x2="1849.8" y2="288.8" stroke="#d6d6d6" stroke-width="1.5"/><line x1="1648.8" y1="489.6" x2="1648.8" y2="88" stroke="#d6d6d6" stroke-width="1.5"/><line x1="1447.8" y1="248.64" x2="1849.8" y2="248.64" stroke="#d6d6d6" stroke-width="1.5"/><line x1="1689" y1="489.6" x2="1689" y2="88" stroke="#d6d6d6" stroke-width="1.5"/><line x1="1447.8" y1="208.48" x2="1849.8" y2="208.48" stroke="#d6d6d6" stroke-width="1.5"/><line x1="1729.2" y1="489.6" x2="1729.2" y2="88" stroke="#d6d6d6" stroke-width="1.5"/><line x1="1447.8" y1="168.32" x2="1849.8" y2="168.32" stroke="#d6d6d6" stroke-width="1.5"/><line x1="1769.4" y1="489.6" x2="1769.4" y2="88" stroke="#d6d6d6" stroke-width="1.5"/><line x1="1447.8" y1="128.16" x2="1849.8" y2="128.16" stroke="#d6d6d6" stroke-width="1.5"/><line x1="1809.6" y1="489.6" x2="1809.6" y2="88" stroke="#d6d6d6" stroke-width="1.5"/><line x1="1447.8" y1="88" x2="1849.8" y2="88" stroke="#d6d6d6" stroke-width="1.5"/><line x1="1849.8" y1="489.6" x2="1849.8" y2="88" stroke="#d6d6d6" stroke-width="1.5"/><rect x="1460" y="91" width="73" height="80" fill="#fff"/><line x1="1447.8" y1="489.6" x2="1849.8" y2="88" stroke="#dc2245" stroke-width="1.7" stroke-dasharray="3.8 3.4"/><polygon points="1551.68,175.58 1558.13,175.02 1564.59,174.44 1571.05,173.84 1577.51,173.24 1583.97,172.61 1590.43,171.97 1596.88,171.3 1603.34,170.6 1609.8,169.87 1616.26,169.1 1622.72,168.27 1629.17,167.39 1635.63,166.44 1642.09,165.41 1648.55,164.29 1655.01,163.07 1661.47,161.74 1667.92,160.32 1674.38,158.79 1680.84,157.17 1687.3,155.47 1693.76,153.7 1700.21,151.86 1706.67,149.97 1713.13,148.04 1719.59,146.07 1726.05,144.07 1732.5,142.04 1738.96,140 1745.42,137.93 1751.88,135.85 1758.34,133.75 1764.8,131.65 1771.25,129.53 1777.71,127.41 1784.17,125.28 1790.63,123.14 1797.09,121 1803.54,118.85 1810,116.7 1810,159.59 1803.54,160.11 1797.09,160.64 1790.63,161.18 1784.17,161.72 1777.71,162.26 1771.25,162.82 1764.8,163.38 1758.34,163.95 1751.88,164.54 1745.42,165.13 1738.96,165.74 1732.5,166.37 1726.05,167.03 1719.59,167.7 1713.13,168.41 1706.67,169.16 1700.21,169.94 1693.76,170.78 1687.3,171.69 1680.84,172.66 1674.38,173.72 1667.92,174.87 1661.47,176.12 1655.01,177.48 1648.55,178.94 1642.09,180.49 1635.63,182.14 1629.17,183.87 1622.72,185.66 1616.26,187.52 1609.8,189.42 1603.34,191.36 1596.88,193.34 1590.43,195.35 1583.97,197.39 1577.51,199.44 1571.05,201.51 1564.59,203.6 1558.13,205.69 1551.68,207.8" fill="url(#hatch)"/><line x1="1551.68" y1="191.69" x2="1810" y2="138.14" stroke="#000050" stroke-width="1.6"/><circle cx="1585" cy="210.1" r="5.75" fill="#d4d4d4" stroke="#000" stroke-width="3.1"/><circle cx="1623.9" cy="210.1" r="5.75" fill="#d4d4d4" stroke="#000" stroke-width="3.1"/><circle cx="1636.5" cy="210.1" r="5.75" fill="#d4d4d4" stroke="#000" stroke-width="3.1"/><circle cx="1642.5" cy="210.1" r="5.75" fill="#d4d4d4" stroke="#000" stroke-width="3.1"/><circle cx="1552.2" cy="210.1" r="5.75" fill="#d4d4d4" stroke="#000" stroke-width="3.1"/><circle cx="1593.8" cy="210.1" r="5.75" fill="#d4d4d4" stroke="#000" stroke-width="3.1"/><circle cx="1603.8" cy="210.1" r="5.75" fill="#d4d4d4" stroke="#000" stroke-width="3.1"/><circle cx="1629.5" cy="210.1" r="5.75" fill="#d4d4d4" stroke="#000" stroke-width="3.1"/><circle cx="1648.3" cy="210.1" r="5.75" fill="#d4d4d4" stroke="#000" stroke-width="3.1"/><circle cx="1659.8" cy="210.1" r="5.75" fill="#d4d4d4" stroke="#000" stroke-width="3.1"/><circle cx="1677.9" cy="210.1" r="5.75" fill="#d4d4d4" stroke="#000" stroke-width="3.1"/><circle cx="1697.5" cy="210.1" r="5.75" fill="#d4d4d4" stroke="#000" stroke-width="3.1"/><circle cx="1709" cy="210.1" r="5.75" fill="#d4d4d4" stroke="#000" stroke-width="3.1"/><circle cx="1643.8" cy="153.1" r="5.75" fill="#d4d4d4" stroke="#000" stroke-width="3.1"/><circle cx="1687.6" cy="154.6" r="5.75" fill="#d4d4d4" stroke="#000" stroke-width="3.1"/><circle cx="1615.6" cy="157.7" r="5.75" fill="#d4d4d4" stroke="#000" stroke-width="3.1"/><circle cx="1591" cy="157.7" r="5.75" fill="#d4d4d4" stroke="#000" stroke-width="3.1"/><circle cx="1620.7" cy="157.7" r="5.75" fill="#d4d4d4" stroke="#000" stroke-width="3.1"/><circle cx="1633.5" cy="157.7" r="5.75" fill="#d4d4d4" stroke="#000" stroke-width="3.1"/><circle cx="1649.8" cy="157.7" r="5.75" fill="#d4d4d4" stroke="#000" stroke-width="3.1"/><circle cx="1660.1" cy="157.7" r="5.75" fill="#d4d4d4" stroke="#000" stroke-width="3.1"/><circle cx="1673.8" cy="157.7" r="5.75" fill="#d4d4d4" stroke="#000" stroke-width="3.1"/><circle cx="1695.3" cy="157.7" r="5.75" fill="#d4d4d4" stroke="#000" stroke-width="3.1"/><circle cx="1716.4" cy="157.7" r="5.75" fill="#d4d4d4" stroke="#000" stroke-width="3.1"/><circle cx="1739.8" cy="155" r="5.75" fill="#d4d4d4" stroke="#000" stroke-width="3.1"/><circle cx="1769.4" cy="153.7" r="5.75" fill="#d4d4d4" stroke="#000" stroke-width="3.1"/><circle cx="1620.5" cy="108.9" r="5.75" fill="#d4d4d4" stroke="#000" stroke-width="3.1"/><circle cx="1625.7" cy="105.4" r="5.75" fill="#d4d4d4" stroke="#000" stroke-width="3.1"/><circle cx="1638.3" cy="120.6" r="5.75" fill="#d4d4d4" stroke="#000" stroke-width="3.1"/><circle cx="1651.3" cy="123.8" r="5.75" fill="#d4d4d4" stroke="#000" stroke-width="3.1"/><circle cx="1657.6" cy="117.6" r="5.75" fill="#d4d4d4" stroke="#000" stroke-width="3.1"/><circle cx="1678.4" cy="119.1" r="5.75" fill="#d4d4d4" stroke="#000" stroke-width="3.1"/><circle cx="1693.7" cy="120.9" r="5.75" fill="#d4d4d4" stroke="#000" stroke-width="3.1"/><circle cx="1717.1" cy="123.3" r="5.75" fill="#d4d4d4" stroke="#000" stroke-width="3.1"/><circle cx="1739.8" cy="111.6" r="5.75" fill="#d4d4d4" stroke="#000" stroke-width="3.1"/><circle cx="1736.4" cy="123.4" r="5.75" fill="#d4d4d4" stroke="#000" stroke-width="3.1"/><circle cx="1788.8" cy="115" r="5.75" fill="#d4d4d4" stroke="#000" stroke-width="3.1"/><circle cx="1641.6" cy="133.8" r="5.75" fill="#d4d4d4" stroke="#000" stroke-width="3.1"/><circle cx="1632.7" cy="145.7" r="5.75" fill="#d4d4d4" stroke="#000" stroke-width="3.1"/><circle cx="1599.4" cy="181" r="5.75" fill="#d4d4d4" stroke="#000" stroke-width="3.1"/><circle cx="1599.4" cy="175.6" r="5.75" fill="#d4d4d4" stroke="#000" stroke-width="3.1"/><circle cx="1612.4" cy="190.1" r="5.75" fill="#d4d4d4" stroke="#000" stroke-width="3.1"/><circle cx="1632.1" cy="172.3" r="5.75" fill="#d4d4d4" stroke="#000" stroke-width="3.1"/><circle cx="1634.3" cy="175.6" r="5.75" fill="#d4d4d4" stroke="#000" stroke-width="3.1"/><circle cx="1650.5" cy="189.1" r="5.75" fill="#d4d4d4" stroke="#000" stroke-width="3.1"/><circle cx="1703.5" cy="167.5" r="5.75" fill="#d4d4d4" stroke="#000" stroke-width="3.1"/><circle cx="1713.1" cy="175.6" r="5.75" fill="#d4d4d4" stroke="#000" stroke-width="3.1"/><circle cx="1673.4" cy="174.9" r="5.75" fill="#d4d4d4" stroke="#000" stroke-width="3.1"/><circle cx="1680.1" cy="173" r="5.75" fill="#d4d4d4" stroke="#000" stroke-width="3.1"/><circle cx="1734.9" cy="167.6" r="5.75" fill="#d4d4d4" stroke="#000" stroke-width="3.1"/><circle cx="1670.4" cy="186" r="5.75" fill="#d4d4d4" stroke="#000" stroke-width="3.1"/><circle cx="1693.8" cy="186" r="5.75" fill="#d4d4d4" stroke="#000" stroke-width="3.1"/><circle cx="1709" cy="186" r="5.75" fill="#d4d4d4" stroke="#000" stroke-width="3.1"/><circle cx="1747.7" cy="189.8" r="5.75" fill="#d4d4d4" stroke="#000" stroke-width="3.1"/><circle cx="1809.3" cy="141.1" r="5.75" fill="#d4d4d4" stroke="#000" stroke-width="3.1"/><line x1="1447.8" y1="490.5" x2="1447.8" y2="87.1" stroke="#000" stroke-width="1.8"/><line x1="1436.3" y1="489.6" x2="1850.7" y2="489.6" stroke="#000" stroke-width="1.8"/><line x1="1436.3" y1="489.6" x2="1447.8" y2="489.6" stroke="#000" stroke-width="1.8"/><line x1="1447.8" y1="489.6" x2="1447.8" y2="501.6" stroke="#000" stroke-width="1.8"/><text class="tk" x="1432.4" y="498.2" text-anchor="end">0</text><text class="tk" x="1447.8" y="526.8" text-anchor="middle">0</text><line x1="1436.3" y1="449.44" x2="1447.8" y2="449.44" stroke="#000" stroke-width="1.8"/><line x1="1488" y1="489.6" x2="1488" y2="501.6" stroke="#000" stroke-width="1.8"/><text class="tk" x="1432.4" y="458.04" text-anchor="end">5</text><text class="tk" x="1488" y="526.8" text-anchor="middle">5</text><line x1="1436.3" y1="409.28" x2="1447.8" y2="409.28" stroke="#000" stroke-width="1.8"/><line x1="1528.2" y1="489.6" x2="1528.2" y2="501.6" stroke="#000" stroke-width="1.8"/><text class="tk" x="1432.4" y="417.88" text-anchor="end">10</text><text class="tk" x="1528.2" y="526.8" text-anchor="middle">10</text><line x1="1436.3" y1="369.12" x2="1447.8" y2="369.12" stroke="#000" stroke-width="1.8"/><line x1="1568.4" y1="489.6" x2="1568.4" y2="501.6" stroke="#000" stroke-width="1.8"/><text class="tk" x="1432.4" y="377.72" text-anchor="end">15</text><text class="tk" x="1568.4" y="526.8" text-anchor="middle">15</text><line x1="1436.3" y1="328.96" x2="1447.8" y2="328.96" stroke="#000" stroke-width="1.8"/><line x1="1608.6" y1="489.6" x2="1608.6" y2="501.6" stroke="#000" stroke-width="1.8"/><text class="tk" x="1432.4" y="337.56" text-anchor="end">20</text><text class="tk" x="1608.6" y="526.8" text-anchor="middle">20</text><line x1="1436.3" y1="288.8" x2="1447.8" y2="288.8" stroke="#000" stroke-width="1.8"/><line x1="1648.8" y1="489.6" x2="1648.8" y2="501.6" stroke="#000" stroke-width="1.8"/><text class="tk" x="1432.4" y="297.4" text-anchor="end">25</text><text class="tk" x="1648.8" y="526.8" text-anchor="middle">25</text><line x1="1436.3" y1="248.64" x2="1447.8" y2="248.64" stroke="#000" stroke-width="1.8"/><line x1="1689" y1="489.6" x2="1689" y2="501.6" stroke="#000" stroke-width="1.8"/><text class="tk" x="1432.4" y="257.24" text-anchor="end">30</text><text class="tk" x="1689" y="526.8" text-anchor="middle">30</text><line x1="1436.3" y1="208.48" x2="1447.8" y2="208.48" stroke="#000" stroke-width="1.8"/><line x1="1729.2" y1="489.6" x2="1729.2" y2="501.6" stroke="#000" stroke-width="1.8"/><text class="tk" x="1432.4" y="217.08" text-anchor="end">35</text><text class="tk" x="1729.2" y="526.8" text-anchor="middle">35</text><line x1="1436.3" y1="168.32" x2="1447.8" y2="168.32" stroke="#000" stroke-width="1.8"/><line x1="1769.4" y1="489.6" x2="1769.4" y2="501.6" stroke="#000" stroke-width="1.8"/><text class="tk" x="1432.4" y="176.92" text-anchor="end">40</text><text class="tk" x="1769.4" y="526.8" text-anchor="middle">40</text><line x1="1436.3" y1="128.16" x2="1447.8" y2="128.16" stroke="#000" stroke-width="1.8"/><line x1="1809.6" y1="489.6" x2="1809.6" y2="501.6" stroke="#000" stroke-width="1.8"/><text class="tk" x="1432.4" y="136.76" text-anchor="end">45</text><text class="tk" x="1809.6" y="526.8" text-anchor="middle">45</text><line x1="1436.3" y1="88" x2="1447.8" y2="88" stroke="#000" stroke-width="1.8"/><line x1="1849.8" y1="489.6" x2="1849.8" y2="501.6" stroke="#000" stroke-width="1.8"/><text class="tk" x="1432.4" y="96.6" text-anchor="end">50</text><text class="tk" x="1849.8" y="526.8" text-anchor="middle">50</text><text class="st" x="1464.4" y="115.3">n=64</text><text class="st" x="1464.4" y="137.5">r=0.35</text><text class="st" x="1464.4" y="159.7">p&lt;0.05</text></g>
<g><line x1="100.4" y1="924.54" x2="537.49" y2="924.54" stroke="#d6d6d6" stroke-width="1.5"/><line x1="100.4" y1="891.76" x2="537.49" y2="891.76" stroke="#d6d6d6" stroke-width="1.5"/><line x1="100.4" y1="858.98" x2="537.49" y2="858.98" stroke="#d6d6d6" stroke-width="1.5"/><line x1="100.4" y1="826.2" x2="537.49" y2="826.2" stroke="#d6d6d6" stroke-width="1.5"/><line x1="100.4" y1="793.42" x2="537.49" y2="793.42" stroke="#d6d6d6" stroke-width="1.5"/><line x1="100.4" y1="760.64" x2="537.49" y2="760.64" stroke="#d6d6d6" stroke-width="1.5"/><line x1="100.4" y1="727.86" x2="537.49" y2="727.86" stroke="#d6d6d6" stroke-width="1.5"/><line x1="100.4" y1="695.08" x2="537.49" y2="695.08" stroke="#d6d6d6" stroke-width="1.5"/><line x1="174.61" y1="695.08" x2="174.61" y2="986.8" stroke="#d6d6d6" stroke-width="1.5"/><line x1="219.97" y1="695.08" x2="219.97" y2="986.8" stroke="#d6d6d6" stroke-width="1.5"/><line x1="265.33" y1="695.08" x2="265.33" y2="986.8" stroke="#d6d6d6" stroke-width="1.5"/><line x1="310.69" y1="695.08" x2="310.69" y2="986.8" stroke="#d6d6d6" stroke-width="1.5"/><line x1="356.05" y1="695.08" x2="356.05" y2="986.8" stroke="#d6d6d6" stroke-width="1.5"/><line x1="401.41" y1="695.08" x2="401.41" y2="986.8" stroke="#d6d6d6" stroke-width="1.5"/><line x1="446.77" y1="695.08" x2="446.77" y2="986.8" stroke="#d6d6d6" stroke-width="1.5"/><line x1="492.13" y1="695.08" x2="492.13" y2="986.8" stroke="#d6d6d6" stroke-width="1.5"/><line x1="537.49" y1="695.08" x2="537.49" y2="986.8" stroke="#d6d6d6" stroke-width="1.5"/><circle cx="182.4" cy="840.4" r="5.75" fill="#d4d4d4" stroke="#000" stroke-width="3.1"/><circle cx="216.4" cy="805.5" r="5.75" fill="#d4d4d4" stroke="#000" stroke-width="3.1"/><circle cx="227.8" cy="842.5" r="5.75" fill="#d4d4d4" stroke="#000" stroke-width="3.1"/><circle cx="229.6" cy="848.2" r="5.75" fill="#d4d4d4" stroke="#000" stroke-width="3.1"/><circle cx="235" cy="855.7" r="5.75" fill="#d4d4d4" stroke="#000" stroke-width="3.1"/><circle cx="237.8" cy="836.4" r="5.75" fill="#d4d4d4" stroke="#000" stroke-width="3.1"/><circle cx="247.5" cy="823.1" r="5.75" fill="#d4d4d4" stroke="#000" stroke-width="3.1"/><circle cx="259.4" cy="825.9" r="5.75" fill="#d4d4d4" stroke="#000" stroke-width="3.1"/><circle cx="259.4" cy="841.3" r="5.75" fill="#d4d4d4" stroke="#000" stroke-width="3.1"/><circle cx="257.8" cy="856.3" r="5.75" fill="#d4d4d4" stroke="#000" stroke-width="3.1"/><circle cx="273.7" cy="857" r="5.75" fill="#d4d4d4" stroke="#000" stroke-width="3.1"/><circle cx="276.2" cy="880.2" r="5.75" fill="#d4d4d4" stroke="#000" stroke-width="3.1"/><circle cx="258.5" cy="806.3" r="5.75" fill="#d4d4d4" stroke="#000" stroke-width="3.1"/><circle cx="261.1" cy="808.9" r="5.75" fill="#d4d4d4" stroke="#000" stroke-width="3.1"/><circle cx="270.7" cy="804.1" r="5.75" fill="#d4d4d4" stroke="#000" stroke-width="3.1"/><circle cx="270.6" cy="811.4" r="5.75" fill="#d4d4d4" stroke="#000" stroke-width="3.1"/><circle cx="283.1" cy="816.1" r="5.75" fill="#d4d4d4" stroke="#000" stroke-width="3.1"/><circle cx="279.6" cy="826.8" r="5.75" fill="#d4d4d4" stroke="#000" stroke-width="3.1"/><circle cx="278.9" cy="834.3" r="5.75" fill="#d4d4d4" stroke="#000" stroke-width="3.1"/><circle cx="286.2" cy="837.5" r="5.75" fill="#d4d4d4" stroke="#000" stroke-width="3.1"/><circle cx="292.7" cy="826.7" r="5.75" fill="#d4d4d4" stroke="#000" stroke-width="3.1"/><circle cx="302" cy="891.1" r="5.75" fill="#d4d4d4" stroke="#000" stroke-width="3.1"/><circle cx="312.1" cy="842.9" r="5.75" fill="#d4d4d4" stroke="#000" stroke-width="3.1"/><circle cx="318.9" cy="865.6" r="5.75" fill="#d4d4d4" stroke="#000" stroke-width="3.1"/><circle cx="323.7" cy="875.3" r="5.75" fill="#d4d4d4" stroke="#000" stroke-width="3.1"/><circle cx="323.3" cy="849.4" r="5.75" fill="#d4d4d4" stroke="#000" stroke-width="3.1"/><circle cx="320.4" cy="846.4" r="5.75" fill="#d4d4d4" stroke="#000" stroke-width="3.1"/><circle cx="308.1" cy="829.2" r="5.75" fill="#d4d4d4" stroke="#000" stroke-width="3.1"/><circle cx="346.2" cy="753.7" r="5.75" fill="#d4d4d4" stroke="#000" stroke-width="3.1"/><circle cx="352.4" cy="753.9" r="5.75" fill="#d4d4d4" stroke="#000" stroke-width="3.1"/><circle cx="380.1" cy="799.2" r="5.75" fill="#d4d4d4" stroke="#000" stroke-width="3.1"/><circle cx="327.5" cy="784.5" r="5.75" fill="#d4d4d4" stroke="#000" stroke-width="3.1"/><circle cx="333.7" cy="794.5" r="5.75" fill="#d4d4d4" stroke="#000" stroke-width="3.1"/><circle cx="334.6" cy="803.2" r="5.75" fill="#d4d4d4" stroke="#000" stroke-width="3.1"/><circle cx="325.5" cy="796.4" r="5.75" fill="#d4d4d4" stroke="#000" stroke-width="3.1"/><circle cx="315.6" cy="787.9" r="5.75" fill="#d4d4d4" stroke="#000" stroke-width="3.1"/><circle cx="327.4" cy="815.4" r="5.75" fill="#d4d4d4" stroke="#000" stroke-width="3.1"/><circle cx="341.6" cy="826.7" r="5.75" fill="#d4d4d4" stroke="#000" stroke-width="3.1"/><circle cx="335.6" cy="837.2" r="5.75" fill="#d4d4d4" stroke="#000" stroke-width="3.1"/><circle cx="361.5" cy="826" r="5.75" fill="#d4d4d4" stroke="#000" stroke-width="3.1"/><circle cx="371.7" cy="827.9" r="5.75" fill="#d4d4d4" stroke="#000" stroke-width="3.1"/><circle cx="371.8" cy="836" r="5.75" fill="#d4d4d4" stroke="#000" stroke-width="3.1"/><circle cx="348.4" cy="848" r="5.75" fill="#d4d4d4" stroke="#000" stroke-width="3.1"/><circle cx="348" cy="852.5" r="5.75" fill="#d4d4d4" stroke="#000" stroke-width="3.1"/><circle cx="358.5" cy="851.2" r="5.75" fill="#d4d4d4" stroke="#000" stroke-width="3.1"/><circle cx="343.4" cy="868.6" r="5.75" fill="#d4d4d4" stroke="#000" stroke-width="3.1"/><circle cx="334.3" cy="856.3" r="5.75" fill="#d4d4d4" stroke="#000" stroke-width="3.1"/><circle cx="302.6" cy="800.4" r="5.75" fill="#d4d4d4" stroke="#000" stroke-width="3.1"/><circle cx="307.9" cy="810" r="5.75" fill="#d4d4d4" stroke="#000" stroke-width="3.1"/><circle cx="313.9" cy="813.2" r="5.75" fill="#d4d4d4" stroke="#000" stroke-width="3.1"/><circle cx="301.9" cy="813.2" r="5.75" fill="#d4d4d4" stroke="#000" stroke-width="3.1"/><circle cx="313.3" cy="825.1" r="5.75" fill="#d4d4d4" stroke="#000" stroke-width="3.1"/><circle cx="385.3" cy="736.2" r="5.75" fill="#d4d4d4" stroke="#000" stroke-width="3.1"/><circle cx="392.3" cy="756.7" r="5.75" fill="#d4d4d4" stroke="#000" stroke-width="3.1"/><circle cx="381.8" cy="764" r="5.75" fill="#d4d4d4" stroke="#000" stroke-width="3.1"/><circle cx="409.8" cy="780.8" r="5.75" fill="#d4d4d4" stroke="#000" stroke-width="3.1"/><circle cx="407.5" cy="795.7" r="5.75" fill="#d4d4d4" stroke="#000" stroke-width="3.1"/><circle cx="371" cy="849.3" r="5.75" fill="#d4d4d4" stroke="#000" stroke-width="3.1"/><circle cx="486.4" cy="800.6" r="5.75" fill="#d4d4d4" stroke="#000" stroke-width="3.1"/><circle cx="496.6" cy="819.5" r="5.75" fill="#d4d4d4" stroke="#000" stroke-width="3.1"/><circle cx="437.8" cy="790.8" r="5.75" fill="#d4d4d4" stroke="#000" stroke-width="3.1"/><circle cx="434.8" cy="808.7" r="5.75" fill="#d4d4d4" stroke="#000" stroke-width="3.1"/><circle cx="415.8" cy="815.4" r="5.75" fill="#d4d4d4" stroke="#000" stroke-width="3.1"/><circle cx="402" cy="842.6" r="5.75" fill="#d4d4d4" stroke="#000" stroke-width="3.1"/><circle cx="396.1" cy="845.6" r="5.75" fill="#d4d4d4" stroke="#000" stroke-width="3.1"/><circle cx="358.3" cy="862.1" r="5.75" fill="#d4d4d4" stroke="#000" stroke-width="3.1"/><circle cx="396.7" cy="898.3" r="5.75" fill="#d4d4d4" stroke="#000" stroke-width="3.1"/><line x1="104.4" y1="817.68" x2="530.5" y2="817.68" stroke="#2a08ff" stroke-width="2.6" stroke-dasharray="0.01 8.9" stroke-linecap="round"/><line x1="104.4" y1="830.79" x2="530.5" y2="830.79" stroke="#2a08ff" stroke-width="2.6" stroke-dasharray="0.01 8.9" stroke-linecap="round"/><line x1="100.4" y1="824.23" x2="530.5" y2="824.23" stroke="#2a08ff" stroke-width="2.4" stroke-dasharray="8.3 6.2"/><line x1="100.4" y1="759.98" x2="530.5" y2="759.98" stroke="#e03048" stroke-width="1.9" stroke-dasharray="8 6.8"/><line x1="100.4" y1="888.48" x2="530.5" y2="888.48" stroke="#ee1c2e" stroke-width="2.4" stroke-dasharray="8 6.8"/><line x1="100.4" y1="958.22" x2="100.4" y2="694.18" stroke="#000" stroke-width="1.8"/><line x1="88.9" y1="957.32" x2="100.4" y2="957.32" stroke="#000" stroke-width="1.8"/><text class="tk" x="85" y="965.92" text-anchor="end">-20</text><line x1="88.9" y1="924.54" x2="100.4" y2="924.54" stroke="#000" stroke-width="1.8"/><text class="tk" x="85" y="933.14" text-anchor="end">-15</text><line x1="88.9" y1="891.76" x2="100.4" y2="891.76" stroke="#000" stroke-width="1.8"/><text class="tk" x="85" y="900.36" text-anchor="end">-10</text><line x1="88.9" y1="858.98" x2="100.4" y2="858.98" stroke="#000" stroke-width="1.8"/><text class="tk" x="85" y="867.58" text-anchor="end">-5</text><line x1="88.9" y1="826.2" x2="100.4" y2="826.2" stroke="#000" stroke-width="1.8"/><text class="tk" x="85" y="834.8" text-anchor="end">0</text><line x1="88.9" y1="793.42" x2="100.4" y2="793.42" stroke="#000" stroke-width="1.8"/><text class="tk" x="85" y="802.02" text-anchor="end">5</text><line x1="88.9" y1="760.64" x2="100.4" y2="760.64" stroke="#000" stroke-width="1.8"/><text class="tk" x="85" y="769.24" text-anchor="end">10</text><line x1="88.9" y1="727.86" x2="100.4" y2="727.86" stroke="#000" stroke-width="1.8"/><text class="tk" x="85" y="736.46" text-anchor="end">15</text><line x1="88.9" y1="695.08" x2="100.4" y2="695.08" stroke="#000" stroke-width="1.8"/><text class="tk" x="85" y="703.68" text-anchor="end">20</text><line x1="128.35" y1="986.8" x2="538.39" y2="986.8" stroke="#000" stroke-width="1.8"/><line x1="129.25" y1="986.8" x2="129.25" y2="997.8" stroke="#000" stroke-width="1.8"/><text class="tk" x="129.25" y="1023.3" text-anchor="middle">5</text><line x1="174.61" y1="986.8" x2="174.61" y2="997.8" stroke="#000" stroke-width="1.8"/><text class="tk" x="174.61" y="1023.3" text-anchor="middle">10</text><line x1="219.97" y1="986.8" x2="219.97" y2="997.8" stroke="#000" stroke-width="1.8"/><text class="tk" x="219.97" y="1023.3" text-anchor="middle">15</text><line x1="265.33" y1="986.8" x2="265.33" y2="997.8" stroke="#000" stroke-width="1.8"/><text class="tk" x="265.33" y="1023.3" text-anchor="middle">20</text><line x1="310.69" y1="986.8" x2="310.69" y2="997.8" stroke="#000" stroke-width="1.8"/><text class="tk" x="310.69" y="1023.3" text-anchor="middle">25</text><line x1="356.05" y1="986.8" x2="356.05" y2="997.8" stroke="#000" stroke-width="1.8"/><text class="tk" x="356.05" y="1023.3" text-anchor="middle">30</text><line x1="401.41" y1="986.8" x2="401.41" y2="997.8" stroke="#000" stroke-width="1.8"/><text class="tk" x="401.41" y="1023.3" text-anchor="middle">35</text><line x1="446.77" y1="986.8" x2="446.77" y2="997.8" stroke="#000" stroke-width="1.8"/><text class="tk" x="446.77" y="1023.3" text-anchor="middle">40</text><line x1="492.13" y1="986.8" x2="492.13" y2="997.8" stroke="#000" stroke-width="1.8"/><text class="tk" x="492.13" y="1023.3" text-anchor="middle">45</text><line x1="537.49" y1="986.8" x2="537.49" y2="997.8" stroke="#000" stroke-width="1.8"/><text class="tk" x="537.49" y="1023.3" text-anchor="middle">50</text><text class="an" x="574.3" y="754.6" text-anchor="middle">95% LoA</text><text class="an" x="574.3" y="779" text-anchor="middle">(10.1)</text><text class="an" x="577.3" y="818.1" text-anchor="middle">Bias ± 95% CI</text><text class="an" x="577.8" y="842.3" text-anchor="middle">(0.3 ± 1.0)</text><text class="an" x="574.3" y="882" text-anchor="middle">95% LoA</text><text class="an" x="574.6" y="906" text-anchor="middle">(-9.5)</text></g>
<g><line x1="776.1" y1="924.54" x2="1213.74" y2="924.54" stroke="#d6d6d6" stroke-width="1.5"/><line x1="776.1" y1="891.76" x2="1213.74" y2="891.76" stroke="#d6d6d6" stroke-width="1.5"/><line x1="776.1" y1="858.98" x2="1213.74" y2="858.98" stroke="#d6d6d6" stroke-width="1.5"/><line x1="776.1" y1="826.2" x2="1213.74" y2="826.2" stroke="#d6d6d6" stroke-width="1.5"/><line x1="776.1" y1="793.42" x2="1213.74" y2="793.42" stroke="#d6d6d6" stroke-width="1.5"/><line x1="776.1" y1="760.64" x2="1213.74" y2="760.64" stroke="#d6d6d6" stroke-width="1.5"/><line x1="776.1" y1="727.86" x2="1213.74" y2="727.86" stroke="#d6d6d6" stroke-width="1.5"/><line x1="776.1" y1="695.08" x2="1213.74" y2="695.08" stroke="#d6d6d6" stroke-width="1.5"/><line x1="850.86" y1="695.08" x2="850.86" y2="986.8" stroke="#d6d6d6" stroke-width="1.5"/><line x1="896.22" y1="695.08" x2="896.22" y2="986.8" stroke="#d6d6d6" stroke-width="1.5"/><line x1="941.58" y1="695.08" x2="941.58" y2="986.8" stroke="#d6d6d6" stroke-width="1.5"/><line x1="986.94" y1="695.08" x2="986.94" y2="986.8" stroke="#d6d6d6" stroke-width="1.5"/><line x1="1032.3" y1="695.08" x2="1032.3" y2="986.8" stroke="#d6d6d6" stroke-width="1.5"/><line x1="1077.66" y1="695.08" x2="1077.66" y2="986.8" stroke="#d6d6d6" stroke-width="1.5"/><line x1="1123.02" y1="695.08" x2="1123.02" y2="986.8" stroke="#d6d6d6" stroke-width="1.5"/><line x1="1168.38" y1="695.08" x2="1168.38" y2="986.8" stroke="#d6d6d6" stroke-width="1.5"/><line x1="1213.74" y1="695.08" x2="1213.74" y2="986.8" stroke="#d6d6d6" stroke-width="1.5"/><circle cx="870.2" cy="837.2" r="5.75" fill="#d4d4d4" stroke="#000" stroke-width="3.1"/><circle cx="937" cy="804.1" r="5.75" fill="#d4d4d4" stroke="#000" stroke-width="3.1"/><circle cx="916.3" cy="825.1" r="5.75" fill="#d4d4d4" stroke="#000" stroke-width="3.1"/><circle cx="921" cy="827.3" r="5.75" fill="#d4d4d4" stroke="#000" stroke-width="3.1"/><circle cx="934.2" cy="829.2" r="5.75" fill="#d4d4d4" stroke="#000" stroke-width="3.1"/><circle cx="923.8" cy="843.3" r="5.75" fill="#d4d4d4" stroke="#000" stroke-width="3.1"/><circle cx="914.9" cy="840.6" r="5.75" fill="#d4d4d4" stroke="#000" stroke-width="3.1"/><circle cx="912" cy="835.9" r="5.75" fill="#d4d4d4" stroke="#000" stroke-width="3.1"/><circle cx="923.5" cy="858.2" r="5.75" fill="#d4d4d4" stroke="#000" stroke-width="3.1"/><circle cx="906.8" cy="845.9" r="5.75" fill="#d4d4d4" stroke="#000" stroke-width="3.1"/><circle cx="910.3" cy="857.3" r="5.75" fill="#d4d4d4" stroke="#000" stroke-width="3.1"/><circle cx="899.9" cy="872.4" r="5.75" fill="#d4d4d4" stroke="#000" stroke-width="3.1"/><circle cx="947.4" cy="837.4" r="5.75" fill="#d4d4d4" stroke="#000" stroke-width="3.1"/><circle cx="951.5" cy="855.3" r="5.75" fill="#d4d4d4" stroke="#000" stroke-width="3.1"/><circle cx="960.2" cy="826" r="5.75" fill="#d4d4d4" stroke="#000" stroke-width="3.1"/><circle cx="963.3" cy="834.1" r="5.75" fill="#d4d4d4" stroke="#000" stroke-width="3.1"/><circle cx="995.9" cy="787.8" r="5.75" fill="#d4d4d4" stroke="#000" stroke-width="3.1"/><circle cx="1021.7" cy="820.4" r="5.75" fill="#d4d4d4" stroke="#000" stroke-width="3.1"/><circle cx="1034.5" cy="846.4" r="5.75" fill="#d4d4d4" stroke="#000" stroke-width="3.1"/><circle cx="998.6" cy="808.4" r="5.75" fill="#d4d4d4" stroke="#000" stroke-width="3.1"/><circle cx="1004.1" cy="812.2" r="5.75" fill="#d4d4d4" stroke="#000" stroke-width="3.1"/><circle cx="985.1" cy="802.4" r="5.75" fill="#d4d4d4" stroke="#000" stroke-width="3.1"/><circle cx="1000.5" cy="824.6" r="5.75" fill="#d4d4d4" stroke="#000" stroke-width="3.1"/><circle cx="989.4" cy="814.5" r="5.75" fill="#d4d4d4" stroke="#000" stroke-width="3.1"/><circle cx="991.6" cy="820.2" r="5.75" fill="#d4d4d4" stroke="#000" stroke-width="3.1"/><circle cx="1005.4" cy="841.5" r="5.75" fill="#d4d4d4" stroke="#000" stroke-width="3.1"/><circle cx="1023" cy="850.4" r="5.75" fill="#d4d4d4" stroke="#000" stroke-width="3.1"/><circle cx="1015.4" cy="852.1" r="5.75" fill="#d4d4d4" stroke="#000" stroke-width="3.1"/><circle cx="1022.4" cy="868" r="5.75" fill="#d4d4d4" stroke="#000" stroke-width="3.1"/><circle cx="1022.2" cy="873.2" r="5.75" fill="#d4d4d4" stroke="#000" stroke-width="3.1"/><circle cx="1009" cy="858.2" r="5.75" fill="#d4d4d4" stroke="#000" stroke-width="3.1"/><circle cx="1011.1" cy="871.5" r="5.75" fill="#d4d4d4" stroke="#000" stroke-width="3.1"/><circle cx="998.5" cy="856.8" r="5.75" fill="#d4d4d4" stroke="#000" stroke-width="3.1"/><circle cx="998.1" cy="862.5" r="5.75" fill="#d4d4d4" stroke="#000" stroke-width="3.1"/><circle cx="988.3" cy="859.5" r="5.75" fill="#d4d4d4" stroke="#000" stroke-width="3.1"/><circle cx="1005.6" cy="888.8" r="5.75" fill="#d4d4d4" stroke="#000" stroke-width="3.1"/><circle cx="1010.1" cy="896.5" r="5.75" fill="#d4d4d4" stroke="#000" stroke-width="3.1"/><circle cx="978" cy="818.2" r="5.75" fill="#d4d4d4" stroke="#000" stroke-width="3.1"/><circle cx="971.7" cy="817.2" r="5.75" fill="#d4d4d4" stroke="#000" stroke-width="3.1"/><circle cx="965.9" cy="810.3" r="5.75" fill="#d4d4d4" stroke="#000" stroke-width="3.1"/><circle cx="984.3" cy="834.5" r="5.75" fill="#d4d4d4" stroke="#000" stroke-width="3.1"/><circle cx="973.3" cy="836.8" r="5.75" fill="#d4d4d4" stroke="#000" stroke-width="3.1"/><circle cx="1063" cy="734.3" r="5.75" fill="#d4d4d4" stroke="#000" stroke-width="3.1"/><circle cx="1064.8" cy="761.7" r="5.75" fill="#d4d4d4" stroke="#000" stroke-width="3.1"/><circle cx="1079.4" cy="790.5" r="5.75" fill="#d4d4d4" stroke="#000" stroke-width="3.1"/><circle cx="1012.8" cy="738.8" r="5.75" fill="#d4d4d4" stroke="#000" stroke-width="3.1"/><circle cx="1025.6" cy="758.4" r="5.75" fill="#d4d4d4" stroke="#000" stroke-width="3.1"/><circle cx="1018.1" cy="763.8" r="5.75" fill="#d4d4d4" stroke="#000" stroke-width="3.1"/><circle cx="1033.1" cy="773.8" r="5.75" fill="#d4d4d4" stroke="#000" stroke-width="3.1"/><circle cx="1041.2" cy="788.1" r="5.75" fill="#d4d4d4" stroke="#000" stroke-width="3.1"/><circle cx="1054.2" cy="802.4" r="5.75" fill="#d4d4d4" stroke="#000" stroke-width="3.1"/><circle cx="1046.4" cy="813.8" r="5.75" fill="#d4d4d4" stroke="#000" stroke-width="3.1"/><circle cx="1018.7" cy="782.8" r="5.75" fill="#d4d4d4" stroke="#000" stroke-width="3.1"/><circle cx="1001.1" cy="768.3" r="5.75" fill="#d4d4d4" stroke="#000" stroke-width="3.1"/><circle cx="1005.5" cy="778.4" r="5.75" fill="#d4d4d4" stroke="#000" stroke-width="3.1"/><circle cx="1070.5" cy="816.9" r="5.75" fill="#d4d4d4" stroke="#000" stroke-width="3.1"/><circle cx="1050.7" cy="843.7" r="5.75" fill="#d4d4d4" stroke="#000" stroke-width="3.1"/><circle cx="1146.8" cy="822.7" r="5.75" fill="#d4d4d4" stroke="#000" stroke-width="3.1"/><circle cx="1122.5" cy="892.1" r="5.75" fill="#d4d4d4" stroke="#000" stroke-width="3.1"/><circle cx="1100.7" cy="823.8" r="5.75" fill="#d4d4d4" stroke="#000" stroke-width="3.1"/><circle cx="1087.9" cy="822.1" r="5.75" fill="#d4d4d4" stroke="#000" stroke-width="3.1"/><circle cx="1088.6" cy="829.4" r="5.75" fill="#d4d4d4" stroke="#000" stroke-width="3.1"/><circle cx="1092.4" cy="821.2" r="5.75" fill="#d4d4d4" stroke="#000" stroke-width="3.1"/><circle cx="1075.7" cy="838.1" r="5.75" fill="#d4d4d4" stroke="#000" stroke-width="3.1"/><circle cx="1083.5" cy="883" r="5.75" fill="#d4d4d4" stroke="#000" stroke-width="3.1"/><circle cx="839" cy="868.7" r="5.75" fill="#d4d4d4" stroke="#000" stroke-width="3.1"/><circle cx="954.9" cy="924.7" r="5.75" fill="#d4d4d4" stroke="#000" stroke-width="3.1"/><line x1="780.1" y1="821.61" x2="1206.5" y2="821.61" stroke="#2a08ff" stroke-width="2.6" stroke-dasharray="0.01 8.9" stroke-linecap="round"/><line x1="780.1" y1="836.03" x2="1206.5" y2="836.03" stroke="#2a08ff" stroke-width="2.6" stroke-dasharray="0.01 8.9" stroke-linecap="round"/><line x1="776.1" y1="828.82" x2="1206.5" y2="828.82" stroke="#2a08ff" stroke-width="2.4" stroke-dasharray="8.3 6.2"/><line x1="776.1" y1="754.74" x2="1206.5" y2="754.74" stroke="#ee1c2e" stroke-width="2.4" stroke-dasharray="8 6.8"/><line x1="776.1" y1="902.25" x2="1206.5" y2="902.25" stroke="#ee1c2e" stroke-width="2.4" stroke-dasharray="8 6.8"/><line x1="776.1" y1="958.22" x2="776.1" y2="694.18" stroke="#000" stroke-width="1.8"/><line x1="764.6" y1="957.32" x2="776.1" y2="957.32" stroke="#000" stroke-width="1.8"/><text class="tk" x="760.7" y="965.92" text-anchor="end">-20</text><line x1="764.6" y1="924.54" x2="776.1" y2="924.54" stroke="#000" stroke-width="1.8"/><text class="tk" x="760.7" y="933.14" text-anchor="end">-15</text><line x1="764.6" y1="891.76" x2="776.1" y2="891.76" stroke="#000" stroke-width="1.8"/><text class="tk" x="760.7" y="900.36" text-anchor="end">-10</text><line x1="764.6" y1="858.98" x2="776.1" y2="858.98" stroke="#000" stroke-width="1.8"/><text class="tk" x="760.7" y="867.58" text-anchor="end">-5</text><line x1="764.6" y1="826.2" x2="776.1" y2="826.2" stroke="#000" stroke-width="1.8"/><text class="tk" x="760.7" y="834.8" text-anchor="end">0</text><line x1="764.6" y1="793.42" x2="776.1" y2="793.42" stroke="#000" stroke-width="1.8"/><text class="tk" x="760.7" y="802.02" text-anchor="end">5</text><line x1="764.6" y1="760.64" x2="776.1" y2="760.64" stroke="#000" stroke-width="1.8"/><text class="tk" x="760.7" y="769.24" text-anchor="end">10</text><line x1="764.6" y1="727.86" x2="776.1" y2="727.86" stroke="#000" stroke-width="1.8"/><text class="tk" x="760.7" y="736.46" text-anchor="end">15</text><line x1="764.6" y1="695.08" x2="776.1" y2="695.08" stroke="#000" stroke-width="1.8"/><text class="tk" x="760.7" y="703.68" text-anchor="end">20</text><line x1="804.6" y1="986.8" x2="1214.64" y2="986.8" stroke="#000" stroke-width="1.8"/><line x1="805.5" y1="986.8" x2="805.5" y2="997.8" stroke="#000" stroke-width="1.8"/><text class="tk" x="805.5" y="1023.3" text-anchor="middle">5</text><line x1="850.86" y1="986.8" x2="850.86" y2="997.8" stroke="#000" stroke-width="1.8"/><text class="tk" x="850.86" y="1023.3" text-anchor="middle">10</text><line x1="896.22" y1="986.8" x2="896.22" y2="997.8" stroke="#000" stroke-width="1.8"/><text class="tk" x="896.22" y="1023.3" text-anchor="middle">15</text><line x1="941.58" y1="986.8" x2="941.58" y2="997.8" stroke="#000" stroke-width="1.8"/><text class="tk" x="941.58" y="1023.3" text-anchor="middle">20</text><line x1="986.94" y1="986.8" x2="986.94" y2="997.8" stroke="#000" stroke-width="1.8"/><text class="tk" x="986.94" y="1023.3" text-anchor="middle">25</text><line x1="1032.3" y1="986.8" x2="1032.3" y2="997.8" stroke="#000" stroke-width="1.8"/><text class="tk" x="1032.3" y="1023.3" text-anchor="middle">30</text><line x1="1077.66" y1="986.8" x2="1077.66" y2="997.8" stroke="#000" stroke-width="1.8"/><text class="tk" x="1077.66" y="1023.3" text-anchor="middle">35</text><line x1="1123.02" y1="986.8" x2="1123.02" y2="997.8" stroke="#000" stroke-width="1.8"/><text class="tk" x="1123.02" y="1023.3" text-anchor="middle">40</text><line x1="1168.38" y1="986.8" x2="1168.38" y2="997.8" stroke="#000" stroke-width="1.8"/><text class="tk" x="1168.38" y="1023.3" text-anchor="middle">45</text><line x1="1213.74" y1="986.8" x2="1213.74" y2="997.8" stroke="#000" stroke-width="1.8"/><text class="tk" x="1213.74" y="1023.3" text-anchor="middle">50</text><text class="an" x="1250.3" y="749.2" text-anchor="middle">95% LoA</text><text class="an" x="1250.4" y="773" text-anchor="middle">(10.9)</text><text class="an" x="1253.8" y="822.3" text-anchor="middle">Bias ± 95% CI</text><text class="an" x="1253.6" y="847.7" text-anchor="middle">(-0.4 ± 1.1)</text><text class="an" x="1250.3" y="896.4" text-anchor="middle">95% LoA</text><text class="an" x="1249.9" y="920.8" text-anchor="middle">(-11.6)</text></g>
<g><line x1="1447.2" y1="924.48" x2="1884.99" y2="924.48" stroke="#d6d6d6" stroke-width="1.5"/><line x1="1447.2" y1="891.7" x2="1884.99" y2="891.7" stroke="#d6d6d6" stroke-width="1.5"/><line x1="1447.2" y1="858.92" x2="1884.99" y2="858.92" stroke="#d6d6d6" stroke-width="1.5"/><line x1="1447.2" y1="826.14" x2="1884.99" y2="826.14" stroke="#d6d6d6" stroke-width="1.5"/><line x1="1447.2" y1="793.36" x2="1884.99" y2="793.36" stroke="#d6d6d6" stroke-width="1.5"/><line x1="1447.2" y1="760.58" x2="1884.99" y2="760.58" stroke="#d6d6d6" stroke-width="1.5"/><line x1="1447.2" y1="727.8" x2="1884.99" y2="727.8" stroke="#d6d6d6" stroke-width="1.5"/><line x1="1447.2" y1="695.02" x2="1884.99" y2="695.02" stroke="#d6d6d6" stroke-width="1.5"/><line x1="1522.11" y1="695.02" x2="1522.11" y2="986.8" stroke="#d6d6d6" stroke-width="1.5"/><line x1="1567.47" y1="695.02" x2="1567.47" y2="986.8" stroke="#d6d6d6" stroke-width="1.5"/><line x1="1612.83" y1="695.02" x2="1612.83" y2="986.8" stroke="#d6d6d6" stroke-width="1.5"/><line x1="1658.19" y1="695.02" x2="1658.19" y2="986.8" stroke="#d6d6d6" stroke-width="1.5"/><line x1="1703.55" y1="695.02" x2="1703.55" y2="986.8" stroke="#d6d6d6" stroke-width="1.5"/><line x1="1748.91" y1="695.02" x2="1748.91" y2="986.8" stroke="#d6d6d6" stroke-width="1.5"/><line x1="1794.27" y1="695.02" x2="1794.27" y2="986.8" stroke="#d6d6d6" stroke-width="1.5"/><line x1="1839.63" y1="695.02" x2="1839.63" y2="986.8" stroke="#d6d6d6" stroke-width="1.5"/><line x1="1884.99" y1="695.02" x2="1884.99" y2="986.8" stroke="#d6d6d6" stroke-width="1.5"/><circle cx="1666.6" cy="775.4" r="5.75" fill="#d4d4d4" stroke="#000" stroke-width="3.1"/><circle cx="1688.6" cy="807.2" r="5.75" fill="#d4d4d4" stroke="#000" stroke-width="3.1"/><circle cx="1695.7" cy="817.4" r="5.75" fill="#d4d4d4" stroke="#000" stroke-width="3.1"/><circle cx="1699.1" cy="822.3" r="5.75" fill="#d4d4d4" stroke="#000" stroke-width="3.1"/><circle cx="1648.1" cy="748.7" r="5.75" fill="#d4d4d4" stroke="#000" stroke-width="3.1"/><circle cx="1671.6" cy="782.6" r="5.75" fill="#d4d4d4" stroke="#000" stroke-width="3.1"/><circle cx="1677.2" cy="790.8" r="5.75" fill="#d4d4d4" stroke="#000" stroke-width="3.1"/><circle cx="1691.7" cy="811.7" r="5.75" fill="#d4d4d4" stroke="#000" stroke-width="3.1"/><circle cx="1702.4" cy="827.1" r="5.75" fill="#d4d4d4" stroke="#000" stroke-width="3.1"/><circle cx="1708.8" cy="836.4" r="5.75" fill="#d4d4d4" stroke="#000" stroke-width="3.1"/><circle cx="1719.1" cy="851.2" r="5.75" fill="#d4d4d4" stroke="#000" stroke-width="3.1"/><circle cx="1730.1" cy="867.2" r="5.75" fill="#d4d4d4" stroke="#000" stroke-width="3.1"/><circle cx="1736.6" cy="876.6" r="5.75" fill="#d4d4d4" stroke="#000" stroke-width="3.1"/><circle cx="1732" cy="776.9" r="5.75" fill="#d4d4d4" stroke="#000" stroke-width="3.1"/><circle cx="1755.9" cy="813.8" r="5.75" fill="#d4d4d4" stroke="#000" stroke-width="3.1"/><circle cx="1713.5" cy="757.6" r="5.75" fill="#d4d4d4" stroke="#000" stroke-width="3.1"/><circle cx="1699.6" cy="737.6" r="5.75" fill="#d4d4d4" stroke="#000" stroke-width="3.1"/><circle cx="1716.4" cy="761.8" r="5.75" fill="#d4d4d4" stroke="#000" stroke-width="3.1"/><circle cx="1723.6" cy="772.2" r="5.75" fill="#d4d4d4" stroke="#000" stroke-width="3.1"/><circle cx="1732.8" cy="785.5" r="5.75" fill="#d4d4d4" stroke="#000" stroke-width="3.1"/><circle cx="1738.6" cy="793.9" r="5.75" fill="#d4d4d4" stroke="#000" stroke-width="3.1"/><circle cx="1746.3" cy="805.1" r="5.75" fill="#d4d4d4" stroke="#000" stroke-width="3.1"/><circle cx="1758.5" cy="822.6" r="5.75" fill="#d4d4d4" stroke="#000" stroke-width="3.1"/><circle cx="1770.4" cy="839.8" r="5.75" fill="#d4d4d4" stroke="#000" stroke-width="3.1"/><circle cx="1785.1" cy="856.7" r="5.75" fill="#d4d4d4" stroke="#000" stroke-width="3.1"/><circle cx="1802.5" cy="879.8" r="5.75" fill="#d4d4d4" stroke="#000" stroke-width="3.1"/><circle cx="1743.8" cy="721.8" r="5.75" fill="#d4d4d4" stroke="#000" stroke-width="3.1"/><circle cx="1748.7" cy="723.2" r="5.75" fill="#d4d4d4" stroke="#000" stroke-width="3.1"/><circle cx="1747.3" cy="745.8" r="5.75" fill="#d4d4d4" stroke="#000" stroke-width="3.1"/><circle cx="1752.8" cy="759.1" r="5.75" fill="#d4d4d4" stroke="#000" stroke-width="3.1"/><circle cx="1759.8" cy="759.1" r="5.75" fill="#d4d4d4" stroke="#000" stroke-width="3.1"/><circle cx="1770.7" cy="777.3" r="5.75" fill="#d4d4d4" stroke="#000" stroke-width="3.1"/><circle cx="1778.3" cy="791.3" r="5.75" fill="#d4d4d4" stroke="#000" stroke-width="3.1"/><circle cx="1790.2" cy="812.3" r="5.75" fill="#d4d4d4" stroke="#000" stroke-width="3.1"/><circle cx="1809.6" cy="821.3" r="5.75" fill="#d4d4d4" stroke="#000" stroke-width="3.1"/><circle cx="1801" cy="828.1" r="5.75" fill="#d4d4d4" stroke="#000" stroke-width="3.1"/><circle cx="1835.3" cy="864" r="5.75" fill="#d4d4d4" stroke="#000" stroke-width="3.1"/><circle cx="1741.7" cy="759.3" r="5.75" fill="#d4d4d4" stroke="#000" stroke-width="3.1"/><circle cx="1729.9" cy="761.8" r="5.75" fill="#d4d4d4" stroke="#000" stroke-width="3.1"/><circle cx="1691.2" cy="763.4" r="5.75" fill="#d4d4d4" stroke="#000" stroke-width="3.1"/><circle cx="1694.2" cy="759" r="5.75" fill="#d4d4d4" stroke="#000" stroke-width="3.1"/><circle cx="1693.4" cy="781.5" r="5.75" fill="#d4d4d4" stroke="#000" stroke-width="3.1"/><circle cx="1714.6" cy="783" r="5.75" fill="#d4d4d4" stroke="#000" stroke-width="3.1"/><circle cx="1713.9" cy="787.5" r="5.75" fill="#d4d4d4" stroke="#000" stroke-width="3.1"/><circle cx="1715.5" cy="811.7" r="5.75" fill="#d4d4d4" stroke="#000" stroke-width="3.1"/><circle cx="1757.6" cy="837.3" r="5.75" fill="#d4d4d4" stroke="#000" stroke-width="3.1"/><circle cx="1758.4" cy="851.7" r="5.75" fill="#d4d4d4" stroke="#000" stroke-width="3.1"/><circle cx="1736.4" cy="818.8" r="5.75" fill="#d4d4d4" stroke="#000" stroke-width="3.1"/><circle cx="1741.2" cy="822.7" r="5.75" fill="#d4d4d4" stroke="#000" stroke-width="3.1"/><circle cx="1775.2" cy="863" r="5.75" fill="#d4d4d4" stroke="#000" stroke-width="3.1"/><circle cx="1728.4" cy="825.4" r="5.75" fill="#d4d4d4" stroke="#000" stroke-width="3.1"/><circle cx="1741.6" cy="844.5" r="5.75" fill="#d4d4d4" stroke="#000" stroke-width="3.1"/><circle cx="1750.2" cy="856.9" r="5.75" fill="#d4d4d4" stroke="#000" stroke-width="3.1"/><circle cx="1769.9" cy="891.5" r="5.75" fill="#d4d4d4" stroke="#000" stroke-width="3.1"/><circle cx="1832.2" cy="902" r="5.75" fill="#d4d4d4" stroke="#000" stroke-width="3.1"/><line x1="1451.2" y1="795.98" x2="1884.5" y2="795.98" stroke="#2a08ff" stroke-width="2.6" stroke-dasharray="0.01 8.9" stroke-linecap="round"/><line x1="1451.2" y1="813.03" x2="1884.5" y2="813.03" stroke="#2a08ff" stroke-width="2.6" stroke-dasharray="0.01 8.9" stroke-linecap="round"/><line x1="1447.2" y1="804.51" x2="1884.5" y2="804.51" stroke="#2a08ff" stroke-width="2.4" stroke-dasharray="8.3 6.2"/><line x1="1447.2" y1="721.9" x2="1884.5" y2="721.9" stroke="#ee1c2e" stroke-width="2.4" stroke-dasharray="8 6.8"/><line x1="1447.2" y1="887.11" x2="1884.5" y2="887.11" stroke="#ee1c2e" stroke-width="2.4" stroke-dasharray="8 6.8"/><line x1="1447.2" y1="958.16" x2="1447.2" y2="694.12" stroke="#000" stroke-width="1.8"/><line x1="1435.7" y1="957.26" x2="1447.2" y2="957.26" stroke="#000" stroke-width="1.8"/><text class="tk" x="1431.8" y="965.86" text-anchor="end">-10</text><line x1="1435.7" y1="924.48" x2="1447.2" y2="924.48" stroke="#000" stroke-width="1.8"/><text class="tk" x="1431.8" y="933.08" text-anchor="end">-5</text><line x1="1435.7" y1="891.7" x2="1447.2" y2="891.7" stroke="#000" stroke-width="1.8"/><text class="tk" x="1431.8" y="900.3" text-anchor="end">0</text><line x1="1435.7" y1="858.92" x2="1447.2" y2="858.92" stroke="#000" stroke-width="1.8"/><text class="tk" x="1431.8" y="867.52" text-anchor="end">5</text><line x1="1435.7" y1="826.14" x2="1447.2" y2="826.14" stroke="#000" stroke-width="1.8"/><text class="tk" x="1431.8" y="834.74" text-anchor="end">10</text><line x1="1435.7" y1="793.36" x2="1447.2" y2="793.36" stroke="#000" stroke-width="1.8"/><text class="tk" x="1431.8" y="801.96" text-anchor="end">15</text><line x1="1435.7" y1="760.58" x2="1447.2" y2="760.58" stroke="#000" stroke-width="1.8"/><text class="tk" x="1431.8" y="769.18" text-anchor="end">20</text><line x1="1435.7" y1="727.8" x2="1447.2" y2="727.8" stroke="#000" stroke-width="1.8"/><text class="tk" x="1431.8" y="736.4" text-anchor="end">25</text><line x1="1435.7" y1="695.02" x2="1447.2" y2="695.02" stroke="#000" stroke-width="1.8"/><text class="tk" x="1431.8" y="703.62" text-anchor="end">30</text><line x1="1475.85" y1="986.8" x2="1885.89" y2="986.8" stroke="#000" stroke-width="1.8"/><line x1="1476.75" y1="986.8" x2="1476.75" y2="997.8" stroke="#000" stroke-width="1.8"/><text class="tk" x="1476.75" y="1023.3" text-anchor="middle">5</text><line x1="1522.11" y1="986.8" x2="1522.11" y2="997.8" stroke="#000" stroke-width="1.8"/><text class="tk" x="1522.11" y="1023.3" text-anchor="middle">10</text><line x1="1567.47" y1="986.8" x2="1567.47" y2="997.8" stroke="#000" stroke-width="1.8"/><text class="tk" x="1567.47" y="1023.3" text-anchor="middle">15</text><line x1="1612.83" y1="986.8" x2="1612.83" y2="997.8" stroke="#000" stroke-width="1.8"/><text class="tk" x="1612.83" y="1023.3" text-anchor="middle">20</text><line x1="1658.19" y1="986.8" x2="1658.19" y2="997.8" stroke="#000" stroke-width="1.8"/><text class="tk" x="1658.19" y="1023.3" text-anchor="middle">25</text><line x1="1703.55" y1="986.8" x2="1703.55" y2="997.8" stroke="#000" stroke-width="1.8"/><text class="tk" x="1703.55" y="1023.3" text-anchor="middle">30</text><line x1="1748.91" y1="986.8" x2="1748.91" y2="997.8" stroke="#000" stroke-width="1.8"/><text class="tk" x="1748.91" y="1023.3" text-anchor="middle">35</text><line x1="1794.27" y1="986.8" x2="1794.27" y2="997.8" stroke="#000" stroke-width="1.8"/><text class="tk" x="1794.27" y="1023.3" text-anchor="middle">40</text><line x1="1839.63" y1="986.8" x2="1839.63" y2="997.8" stroke="#000" stroke-width="1.8"/><text class="tk" x="1839.63" y="1023.3" text-anchor="middle">45</text><line x1="1884.99" y1="986.8" x2="1884.99" y2="997.8" stroke="#000" stroke-width="1.8"/><text class="tk" x="1884.99" y="1023.3" text-anchor="middle">50</text><text class="an" x="1921.6" y="716" text-anchor="middle">95% LoA</text><text class="an" x="1921.6" y="740.2" text-anchor="middle">(25.9)</text><text class="an" x="1924.9" y="798.4" text-anchor="middle">Bias ± 95% CI</text><text class="an" x="1925.2" y="822.3" text-anchor="middle">(13.3 ± 1.3)</text><text class="an" x="1921.6" y="880.6" text-anchor="middle">95% LoA</text><text class="an" x="1921.2" y="908.8" text-anchor="middle">(0.7)</text></g>
<text class="lb" style="font-size:28px" x="162.6" y="565.8"><tspan>V̇O</tspan><tspan font-size="19.5" dy="6">2</tspan><tspan dy="-6">peak</tspan><tspan font-size="23" font-weight="bold" dx="6" letter-spacing="0.3">(ml·min</tspan><tspan font-size="16" font-weight="normal" dy="-11.2" dx="1">-1</tspan><tspan font-size="23" font-weight="bold" dy="11.2" letter-spacing="0.3">·kg</tspan><tspan font-size="16" font-weight="normal" dy="-11.2">-1</tspan><tspan font-size="23" font-weight="bold" dy="11.2" dx="1">)</tspan></text>
<text class="lb" style="font-size:28px" x="838.9" y="565.8"><tspan>V̇O</tspan><tspan font-size="19.5" dy="6">2</tspan><tspan dy="-6">peak</tspan><tspan font-size="23" font-weight="bold" dx="6" letter-spacing="0.3">(ml·min</tspan><tspan font-size="16" font-weight="normal" dy="-11.2" dx="1">-1</tspan><tspan font-size="23" font-weight="bold" dy="11.2" letter-spacing="0.3">·kg</tspan><tspan font-size="16" font-weight="normal" dy="-11.2">-1</tspan><tspan font-size="23" font-weight="bold" dy="11.2" dx="1">)</tspan></text>
<text class="lb" style="font-size:28px" x="1510" y="565.8"><tspan>V̇O</tspan><tspan font-size="19.5" dy="6">2</tspan><tspan dy="-6">peak</tspan><tspan font-size="23" font-weight="bold" dx="6" letter-spacing="0.3">(ml·min</tspan><tspan font-size="16" font-weight="normal" dy="-11.2" dx="1">-1</tspan><tspan font-size="23" font-weight="bold" dy="11.2" letter-spacing="0.3">·kg</tspan><tspan font-size="16" font-weight="normal" dy="-11.2">-1</tspan><tspan font-size="23" font-weight="bold" dy="11.2" dx="1">)</tspan></text>
<text class="lb" style="font-size:27.55px" x="140" y="1064.2">Average <tspan>V̇O</tspan><tspan font-size="19.19" dy="5.9">2</tspan><tspan dy="-5.9">peak</tspan><tspan font-size="22.63" font-weight="bold" dx="5.9" letter-spacing="0.1">(ml·min</tspan><tspan font-size="15.74" font-weight="normal" dy="-11.02" dx="1">-1</tspan><tspan font-size="22.63" font-weight="bold" dy="11.02" letter-spacing="0.1">·kg</tspan><tspan font-size="15.74" font-weight="normal" dy="-11.02">-1</tspan><tspan font-size="22.63" font-weight="bold" dy="11.02" dx="1">)</tspan></text>
<text class="lb" style="font-size:27.55px" x="815.8" y="1064.2">Average <tspan>V̇O</tspan><tspan font-size="19.19" dy="5.9">2</tspan><tspan dy="-5.9">peak</tspan><tspan font-size="22.63" font-weight="bold" dx="5.9" letter-spacing="0.1">(ml·min</tspan><tspan font-size="15.74" font-weight="normal" dy="-11.02" dx="1">-1</tspan><tspan font-size="22.63" font-weight="bold" dy="11.02" letter-spacing="0.1">·kg</tspan><tspan font-size="15.74" font-weight="normal" dy="-11.02">-1</tspan><tspan font-size="22.63" font-weight="bold" dy="11.02" dx="1">)</tspan></text>
<text class="lb" style="font-size:27.55px" x="1487" y="1064.2">Average <tspan>V̇O</tspan><tspan font-size="19.19" dy="5.9">2</tspan><tspan dy="-5.9">peak</tspan><tspan font-size="22.63" font-weight="bold" dx="5.9" letter-spacing="0.1">(ml·min</tspan><tspan font-size="15.74" font-weight="normal" dy="-11.02" dx="1">-1</tspan><tspan font-size="22.63" font-weight="bold" dy="11.02" letter-spacing="0.1">·kg</tspan><tspan font-size="15.74" font-weight="normal" dy="-11.02">-1</tspan><tspan font-size="22.63" font-weight="bold" dy="11.02" dx="1">)</tspan></text>
<text class="lb" style="font-size:28px" transform="translate(31.6,433.1) rotate(-90)" x="0" y="0">e<tspan>V̇O</tspan><tspan font-size="19.5" dy="6">2</tspan><tspan dy="-6">peak</tspan><tspan font-size="24" font-weight="normal" stroke="#000" stroke-width="0.6" dx="6" letter-spacing="0.15">(ml·min</tspan><tspan font-size="18" font-weight="normal" dy="-11.2" dx="1">-1</tspan><tspan font-size="24" font-weight="normal" stroke="#000" stroke-width="0.6" dy="11.2" letter-spacing="0.15">·kg</tspan><tspan font-size="18" font-weight="normal" dy="-11.2">-1</tspan><tspan font-size="24" font-weight="normal" stroke="#000" stroke-width="0.6" dy="11.2" dx="1">)</tspan></text>
<text class="lb" style="font-size:28px" transform="translate(707.6,433.1) rotate(-90)" x="0" y="0">e<tspan>V̇O</tspan><tspan font-size="19.5" dy="6">2</tspan><tspan dy="-6">peak</tspan><tspan font-size="24" font-weight="normal" stroke="#000" stroke-width="0.6" dx="6" letter-spacing="0.15">(ml·min</tspan><tspan font-size="18" font-weight="normal" dy="-11.2" dx="1">-1</tspan><tspan font-size="24" font-weight="normal" stroke="#000" stroke-width="0.6" dy="11.2" letter-spacing="0.15">·kg</tspan><tspan font-size="18" font-weight="normal" dy="-11.2">-1</tspan><tspan font-size="24" font-weight="normal" stroke="#000" stroke-width="0.6" dy="11.2" dx="1">)</tspan></text>
<text class="lb" style="font-size:28px" transform="translate(1378.8,433.1) rotate(-90)" x="0" y="0">e<tspan>V̇O</tspan><tspan font-size="19.5" dy="6">2</tspan><tspan dy="-6">peak</tspan><tspan font-size="24" font-weight="normal" stroke="#000" stroke-width="0.6" dx="6" letter-spacing="0.15">(ml·min</tspan><tspan font-size="18" font-weight="normal" dy="-11.2" dx="1">-1</tspan><tspan font-size="24" font-weight="normal" stroke="#000" stroke-width="0.6" dy="11.2" letter-spacing="0.15">·kg</tspan><tspan font-size="18" font-weight="normal" dy="-11.2">-1</tspan><tspan font-size="24" font-weight="normal" stroke="#000" stroke-width="0.6" dy="11.2" dx="1">)</tspan></text>
<text class="lb" style="font-size:27.72px" transform="translate(31.8,1040.8) rotate(-90)" x="0" y="0">e<tspan>V̇O</tspan><tspan font-size="19.3" dy="5.94">2</tspan><tspan dy="-5.94">peak</tspan> - <tspan>V̇O</tspan><tspan font-size="19.3" dy="5.94">2</tspan><tspan dy="-5.94">peak</tspan><tspan font-size="23.76" font-weight="normal" stroke="#000" stroke-width="0.6" dx="5.94" letter-spacing="0.12">(ml·min</tspan><tspan font-size="17.82" font-weight="normal" dy="-11.09" dx="1">-1</tspan><tspan font-size="23.76" font-weight="normal" stroke="#000" stroke-width="0.6" dy="11.09" letter-spacing="0.12">·kg</tspan><tspan font-size="17.82" font-weight="normal" dy="-11.09">-1</tspan><tspan font-size="23.76" font-weight="normal" stroke="#000" stroke-width="0.6" dy="11.09" dx="1">)</tspan></text>
<text class="lb" style="font-size:27.72px" transform="translate(707.8,1040.8) rotate(-90)" x="0" y="0">e<tspan>V̇O</tspan><tspan font-size="19.3" dy="5.94">2</tspan><tspan dy="-5.94">peak</tspan> - <tspan>V̇O</tspan><tspan font-size="19.3" dy="5.94">2</tspan><tspan dy="-5.94">peak</tspan><tspan font-size="23.76" font-weight="normal" stroke="#000" stroke-width="0.6" dx="5.94" letter-spacing="0.12">(ml·min</tspan><tspan font-size="17.82" font-weight="normal" dy="-11.09" dx="1">-1</tspan><tspan font-size="23.76" font-weight="normal" stroke="#000" stroke-width="0.6" dy="11.09" letter-spacing="0.12">·kg</tspan><tspan font-size="17.82" font-weight="normal" dy="-11.09">-1</tspan><tspan font-size="23.76" font-weight="normal" stroke="#000" stroke-width="0.6" dy="11.09" dx="1">)</tspan></text>
<text class="lb" style="font-size:27.72px" transform="translate(1379,1040.8) rotate(-90)" x="0" y="0">e<tspan>V̇O</tspan><tspan font-size="19.3" dy="5.94">2</tspan><tspan dy="-5.94">peak</tspan> - <tspan>V̇O</tspan><tspan font-size="19.3" dy="5.94">2</tspan><tspan dy="-5.94">peak</tspan><tspan font-size="23.76" font-weight="normal" stroke="#000" stroke-width="0.6" dx="5.94" letter-spacing="0.12">(ml·min</tspan><tspan font-size="17.82" font-weight="normal" dy="-11.09" dx="1">-1</tspan><tspan font-size="23.76" font-weight="normal" stroke="#000" stroke-width="0.6" dy="11.09" letter-spacing="0.12">·kg</tspan><tspan font-size="17.82" font-weight="normal" dy="-11.09">-1</tspan><tspan font-size="23.76" font-weight="normal" stroke="#000" stroke-width="0.6" dy="11.09" dx="1">)</tspan></text>
</svg></body></html>
